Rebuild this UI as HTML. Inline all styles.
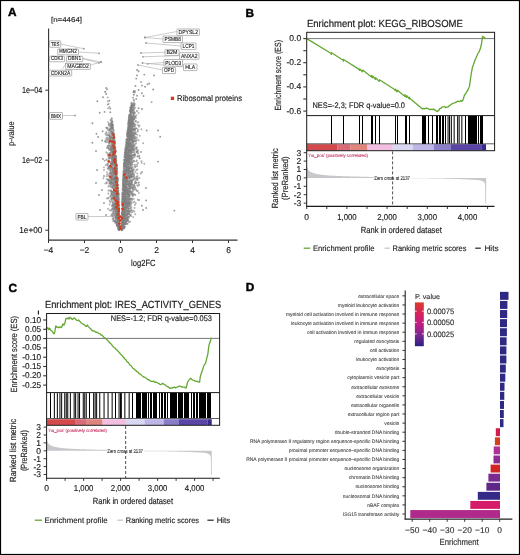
<!DOCTYPE html>
<html><head><meta charset="utf-8"><style>
html,body{margin:0;padding:0;background:#fff;}
svg{display:block;font-family:"Liberation Sans", sans-serif;will-change:transform;text-rendering:geometricPrecision;}
</style></head><body>
<svg width="520" height="555" viewBox="0 0 520 555">
<rect width="520" height="555" fill="#fff"/>
<text x="8.0" y="16.3" font-size="11.8" font-weight="bold" fill="#000" stroke="#000" stroke-width="0.45">A</text>
<text x="245.6" y="16.7" font-size="11.8" font-weight="bold" fill="#000" stroke="#000" stroke-width="0.45">B</text>
<text x="8.6" y="292.2" font-size="11.8" font-weight="bold" fill="#000" stroke="#000" stroke-width="0.45">C</text>
<text x="245.7" y="291.4" font-size="11.8" font-weight="bold" fill="#000" stroke="#000" stroke-width="0.45">D</text>
<text x="51" y="22.3" font-size="7" textLength="31" lengthAdjust="spacingAndGlyphs" fill="#222" stroke="#222" stroke-width="0.126">[n=4464]</text>
<text x="0" y="0" font-size="8.6" text-anchor="middle" textLength="24.7" lengthAdjust="spacingAndGlyphs" fill="#222" stroke="#222" stroke-width="0.155" transform="translate(14.4,133.7) rotate(-90)">p-value</text>
<line x1="45.3" y1="90.19999999999999" x2="48.6" y2="90.19999999999999" stroke="#333" stroke-width="1"/>
<text x="42.3" y="92.89999999999999" font-size="8.7" text-anchor="end" textLength="20.4" lengthAdjust="spacingAndGlyphs" fill="#222" stroke="#222" stroke-width="0.157">1e−04</text>
<line x1="45.3" y1="160.2" x2="48.6" y2="160.2" stroke="#333" stroke-width="1"/>
<text x="42.3" y="162.89999999999998" font-size="8.7" text-anchor="end" textLength="20.2" lengthAdjust="spacingAndGlyphs" fill="#222" stroke="#222" stroke-width="0.157">1e−02</text>
<line x1="45.3" y1="230.2" x2="48.6" y2="230.2" stroke="#333" stroke-width="1"/>
<text x="42.3" y="232.89999999999998" font-size="8.7" text-anchor="end" textLength="23" lengthAdjust="spacingAndGlyphs" fill="#222" stroke="#222" stroke-width="0.157">1e+00</text>
<line x1="48.5" y1="240.2" x2="48.5" y2="243" stroke="#333" stroke-width="1"/>
<text x="48.5" y="253.2" font-size="8.5" text-anchor="middle" fill="#222" stroke="#222" stroke-width="0.153">−4</text>
<line x1="84.5" y1="240.2" x2="84.5" y2="243" stroke="#333" stroke-width="1"/>
<text x="84.5" y="253.2" font-size="8.5" text-anchor="middle" fill="#222" stroke="#222" stroke-width="0.153">−2</text>
<line x1="120.5" y1="240.2" x2="120.5" y2="243" stroke="#333" stroke-width="1"/>
<text x="120.5" y="253.2" font-size="8.5" text-anchor="middle" fill="#222" stroke="#222" stroke-width="0.153">0</text>
<line x1="156.5" y1="240.2" x2="156.5" y2="243" stroke="#333" stroke-width="1"/>
<text x="156.5" y="253.2" font-size="8.5" text-anchor="middle" fill="#222" stroke="#222" stroke-width="0.153">2</text>
<line x1="192.5" y1="240.2" x2="192.5" y2="243" stroke="#333" stroke-width="1"/>
<text x="192.5" y="253.2" font-size="8.5" text-anchor="middle" fill="#222" stroke="#222" stroke-width="0.153">4</text>
<line x1="228.5" y1="240.2" x2="228.5" y2="243" stroke="#333" stroke-width="1"/>
<text x="228.5" y="253.2" font-size="8.5" text-anchor="middle" fill="#222" stroke="#222" stroke-width="0.153">6</text>
<text x="143.3" y="266.4" font-size="9.0" text-anchor="middle" textLength="24.5" lengthAdjust="spacingAndGlyphs" fill="#222" stroke="#222" stroke-width="0.162">log2FC</text>
<g>
<path d="M114.1 170.9h0M124.4 219.1h0M125.7 192.7h0M114.7 164.1h0M123.6 223.9h0M124.3 209.4h0M133.1 103.3h0M125.1 163.3h0M128.5 191.5h0M115.7 160.0h0M128.2 193.2h0M131.6 146.9h0M118.4 217.3h0M131.4 177.2h0M130.6 139.9h0M111.5 155.8h0M112.7 148.6h0M131.5 152.5h0M118.1 197.4h0M125.7 172.2h0M116.1 183.0h0M126.8 192.4h0M109.3 182.3h0M126.2 166.3h0M113.0 124.8h0M127.1 171.1h0M122.8 215.4h0M128.8 162.4h0M124.3 188.1h0M138.5 112.9h0M118.6 194.7h0M115.3 156.2h0M118.3 223.8h0M110.7 164.0h0M122.9 198.3h0M129.5 198.4h0M128.8 126.0h0M123.3 224.6h0M130.2 135.0h0M118.2 226.7h0M112.8 197.1h0M130.4 145.2h0M116.3 198.0h0M135.9 120.7h0M125.1 194.4h0M115.1 171.7h0M124.1 201.7h0M131.0 155.8h0M119.0 229.3h0M108.5 160.3h0M114.8 158.4h0M127.2 181.1h0M124.1 215.3h0M133.7 123.1h0M114.0 158.2h0M123.2 220.5h0M133.1 105.4h0M122.4 196.6h0M133.0 185.5h0M115.1 153.6h0M124.4 191.6h0M115.7 163.9h0M116.8 210.0h0M126.0 178.2h0M116.4 172.4h0M125.0 152.5h0M134.0 129.2h0M131.3 207.2h0M117.1 215.6h0M113.6 149.4h0M128.0 138.5h0M117.9 211.8h0M126.5 192.7h0M114.4 164.6h0M130.4 151.1h0M115.2 163.7h0M106.9 179.3h0M128.4 155.7h0M110.4 130.6h0M132.8 188.8h0M124.4 200.9h0M128.8 157.7h0M122.4 212.0h0M126.0 207.1h0M129.3 119.2h0M131.3 130.1h0M131.9 199.2h0M112.3 128.7h0M130.2 132.6h0M129.3 135.8h0M115.1 173.8h0M125.3 166.3h0M115.4 159.5h0M125.2 196.7h0M134.4 201.7h0M128.1 200.5h0M115.8 169.5h0M127.2 177.1h0M122.2 211.4h0M106.1 142.2h0M119.1 230.0h0M125.7 169.5h0M124.7 214.4h0M109.7 200.7h0M114.8 155.2h0M127.5 130.4h0M132.8 146.5h0M109.6 107.0h0M122.7 214.0h0M126.3 205.9h0M127.2 170.6h0M126.2 164.1h0M109.8 176.5h0M117.2 184.9h0M125.3 185.7h0M135.9 178.4h0M112.6 206.5h0M112.9 187.9h0M123.8 203.2h0M128.2 128.0h0M123.0 227.1h0M129.0 156.4h0M117.2 222.1h0M116.5 176.2h0M114.7 179.8h0M123.7 183.8h0M126.8 191.6h0M123.9 197.5h0M117.8 199.1h0M119.2 225.9h0M122.5 194.0h0M112.3 155.9h0M126.2 203.2h0M116.4 203.2h0M131.1 129.9h0M117.5 217.7h0M129.5 121.7h0M127.2 217.7h0M125.3 171.6h0M129.0 126.9h0M113.6 204.7h0M123.7 174.2h0M115.1 207.5h0M124.8 188.5h0M129.0 174.3h0M114.4 163.5h0M129.3 137.5h0M126.4 154.4h0M116.7 198.4h0M128.2 141.7h0M114.8 164.4h0M112.3 147.8h0M126.7 187.4h0M122.8 185.3h0M129.3 150.5h0M115.0 171.1h0M130.8 185.8h0M135.3 129.0h0M111.7 180.1h0M135.4 132.0h0M131.5 123.2h0M114.7 141.0h0M129.2 146.7h0M114.9 221.0h0M128.0 144.8h0M134.5 124.8h0M135.4 182.9h0M130.1 215.3h0M128.7 167.2h0M124.5 178.8h0M128.5 199.7h0M133.0 119.4h0M114.7 212.7h0M114.6 161.0h0M115.4 172.8h0M124.9 196.9h0M115.9 193.0h0M125.2 163.2h0M125.6 204.1h0M129.7 139.6h0M131.0 136.4h0M129.4 132.9h0M114.6 178.7h0M129.4 152.1h0M133.3 137.0h0M128.3 140.3h0M123.3 225.0h0M124.0 219.4h0M127.1 157.0h0M112.1 200.9h0M131.9 120.2h0M112.5 195.4h0M124.1 164.8h0M112.4 154.0h0M112.3 195.3h0M129.2 132.6h0M115.3 158.7h0M131.9 117.9h0M129.0 172.7h0M129.2 186.1h0M123.8 210.0h0M129.0 121.5h0M130.7 207.7h0M117.3 216.9h0M134.6 105.2h0M118.8 203.9h0M109.3 181.3h0M130.1 180.7h0M128.7 132.7h0M126.1 187.4h0M113.2 184.5h0M123.0 211.3h0M131.3 147.5h0M125.1 224.3h0M107.0 198.2h0M127.0 168.4h0M130.4 142.7h0M126.4 167.2h0M129.3 139.3h0M116.8 189.1h0M113.6 134.3h0M134.3 119.4h0M132.8 129.6h0M122.4 199.4h0M124.5 156.7h0M122.2 229.3h0M116.0 198.8h0M113.5 218.2h0M129.4 159.4h0M115.4 212.2h0M134.1 185.8h0M129.2 130.1h0M124.1 222.9h0M112.0 131.8h0M124.7 185.1h0M116.2 185.1h0M110.5 178.2h0M128.1 160.6h0M131.0 151.7h0M114.6 193.1h0M117.4 214.9h0M132.5 107.4h0M114.0 175.5h0M124.7 222.6h0M118.7 229.6h0M118.6 226.2h0M122.3 202.7h0M132.7 172.9h0M128.4 154.7h0M126.3 162.4h0M116.5 205.9h0M116.3 223.3h0M111.8 131.9h0M112.2 206.3h0M123.2 224.8h0M128.6 185.9h0M125.3 203.6h0M138.0 163.0h0M118.5 198.8h0M123.9 182.4h0M122.2 220.2h0M130.3 130.0h0M117.1 188.5h0M111.8 155.7h0M119.0 216.2h0M112.0 164.5h0M113.4 135.0h0M123.8 228.3h0M127.2 149.0h0M111.9 183.9h0M115.3 158.8h0M111.3 124.3h0M129.4 154.9h0M122.9 219.7h0M117.2 215.6h0M123.4 211.6h0M130.5 161.7h0M133.0 121.9h0M124.5 220.2h0M112.8 202.7h0M123.5 203.9h0M124.4 204.2h0M112.7 148.8h0M131.1 183.9h0M127.1 194.4h0M128.4 143.3h0M109.0 157.9h0M119.4 224.0h0M136.8 190.7h0M129.7 130.6h0M112.2 209.0h0M118.7 228.6h0M137.2 151.6h0M128.6 162.5h0M132.1 129.7h0M118.9 228.6h0M129.2 138.8h0M127.8 129.7h0M115.7 213.3h0M114.2 159.2h0M127.2 155.5h0M115.6 177.7h0M111.2 169.6h0M131.7 191.9h0M108.4 186.5h0M113.6 143.6h0M130.0 178.1h0M115.9 156.3h0M132.4 193.1h0M108.1 163.8h0M126.9 153.8h0M122.5 229.0h0M123.4 222.9h0M106.8 128.3h0M127.0 187.8h0M134.1 152.5h0M114.8 202.6h0M109.6 135.2h0M114.0 179.3h0M112.2 134.9h0M129.1 138.7h0M129.4 128.4h0M126.7 207.7h0M131.7 182.8h0M127.1 175.6h0M118.7 215.2h0M108.4 190.5h0M114.7 158.7h0M125.8 183.5h0M127.7 170.7h0M130.4 126.2h0M131.0 138.8h0M123.3 182.4h0M126.8 211.0h0M117.1 223.0h0M129.4 129.9h0M112.8 184.9h0M117.4 213.3h0M124.4 215.9h0M124.6 199.5h0M118.1 226.6h0M131.6 130.0h0M114.8 142.4h0M131.5 170.1h0M126.5 179.4h0M128.4 167.9h0M127.4 198.9h0M107.8 129.9h0M113.8 138.4h0M114.4 179.4h0M126.8 141.1h0M119.0 203.1h0M132.5 126.4h0M129.1 115.2h0M132.2 171.6h0M113.8 177.5h0M126.3 150.7h0M115.6 196.0h0M124.6 187.3h0M121.9 227.9h0M128.6 156.9h0M113.9 201.9h0M131.3 161.2h0M122.2 203.4h0M110.4 129.6h0M136.9 160.4h0M136.8 139.8h0M122.4 200.7h0M123.8 185.1h0M116.9 183.2h0M129.3 138.4h0M123.1 176.0h0M109.0 141.7h0M125.5 185.5h0M131.5 109.2h0M126.5 174.7h0M128.8 133.0h0M132.4 135.8h0M128.9 199.2h0M127.3 132.7h0M131.5 103.6h0M127.7 145.5h0M113.8 138.8h0M113.3 159.7h0M125.2 197.9h0M127.0 208.4h0M112.3 182.7h0M129.1 151.5h0M111.9 166.9h0M116.7 196.6h0M125.2 176.3h0M123.2 193.5h0M126.8 176.8h0M116.3 183.3h0M128.7 119.2h0M112.8 128.2h0M130.8 157.0h0M128.0 158.6h0M126.1 161.9h0M114.5 166.2h0M130.1 150.8h0M128.3 147.0h0M107.7 146.0h0M113.4 136.5h0M113.9 175.6h0M117.2 214.2h0M112.0 164.7h0M129.2 134.5h0M130.4 125.3h0M126.7 144.4h0M124.0 186.4h0M128.7 168.5h0M129.7 132.7h0M132.8 140.9h0M118.3 207.2h0M130.2 172.1h0M124.9 215.5h0M133.7 104.2h0M103.5 178.3h0M124.3 192.8h0M117.2 223.9h0M128.5 135.4h0M125.3 156.9h0M117.2 187.4h0M109.3 170.1h0M113.7 190.2h0M126.8 221.7h0M113.2 132.6h0M117.4 217.8h0M118.0 218.6h0M129.1 131.9h0M128.2 132.3h0M114.0 185.6h0M128.4 203.9h0M126.7 149.4h0M131.9 149.7h0M125.7 194.0h0M130.8 174.6h0M118.6 217.4h0M131.8 116.2h0M125.2 202.1h0M114.2 200.1h0M123.8 187.4h0M125.2 160.6h0M121.8 222.2h0M124.5 207.0h0M117.1 193.5h0M133.0 191.5h0M116.7 199.7h0M130.0 135.0h0M116.4 183.1h0M127.7 131.9h0M135.1 167.2h0M130.4 205.8h0M125.3 216.5h0M132.2 134.5h0M114.4 197.4h0M132.4 142.6h0M126.6 200.5h0M112.8 137.3h0M116.8 191.9h0M125.3 223.9h0M113.4 138.4h0M126.9 177.1h0M110.7 140.4h0M134.4 136.9h0M122.0 228.4h0M130.7 205.4h0M123.1 221.0h0M117.5 226.2h0M131.3 162.1h0M119.0 228.8h0M114.5 172.4h0M109.1 149.9h0M118.6 201.9h0M128.7 200.3h0M132.2 131.7h0M124.5 173.7h0M125.2 177.8h0M119.2 229.4h0M125.6 175.5h0M128.1 196.9h0M123.6 175.0h0M128.4 132.1h0M122.7 218.4h0M114.1 177.9h0M129.5 184.1h0M128.7 175.5h0M130.2 190.4h0M129.5 138.8h0M116.3 210.3h0M125.2 206.1h0M121.9 229.5h0M112.1 214.6h0M123.2 177.9h0M123.8 181.0h0M123.5 213.5h0M130.5 175.1h0M130.9 121.4h0M125.6 218.3h0M112.6 138.1h0M116.5 178.1h0M123.8 208.1h0M133.2 141.4h0M113.3 146.0h0M106.7 176.2h0M129.4 123.8h0M115.8 172.8h0M118.6 212.9h0M129.9 133.9h0M134.4 129.6h0M118.8 207.6h0M116.9 201.1h0M125.1 184.0h0M108.1 208.7h0M118.3 222.2h0M126.2 168.5h0M112.8 201.6h0M128.8 120.4h0M127.4 136.6h0M118.3 224.3h0M114.4 152.9h0M129.1 188.8h0M126.3 159.5h0M110.7 125.9h0M132.1 150.5h0M127.5 159.4h0M111.8 179.4h0M112.8 144.4h0M111.3 146.5h0M118.0 221.2h0M123.4 197.3h0M108.3 154.8h0M107.5 153.3h0M124.4 165.8h0M109.6 136.4h0M130.2 163.7h0M115.1 150.6h0M124.4 215.5h0M117.1 168.3h0M126.7 181.0h0M128.3 186.0h0M122.8 225.5h0M128.9 156.4h0M128.7 134.2h0M111.6 160.2h0M128.5 200.4h0M128.2 141.4h0M128.0 144.4h0M121.8 230.2h0M122.4 217.9h0M110.3 154.8h0M126.2 154.8h0M125.4 182.9h0M135.3 214.3h0M130.5 165.4h0M122.5 227.6h0M114.9 166.0h0M118.8 229.5h0M130.9 175.2h0M118.1 188.2h0M127.5 156.1h0M125.1 201.1h0M130.8 137.5h0M125.9 181.8h0M115.1 170.2h0M124.3 199.5h0M121.7 227.2h0M132.2 131.6h0M116.6 195.1h0M127.1 202.2h0M123.9 199.9h0M116.1 209.8h0M113.8 208.7h0M117.0 170.9h0M113.9 173.7h0M129.0 164.2h0M115.9 189.2h0M114.6 174.3h0M123.1 180.2h0M132.3 181.0h0M122.6 195.0h0M128.4 127.1h0M121.8 225.8h0M112.8 165.3h0M124.6 185.8h0M127.5 179.3h0M123.0 204.7h0M128.9 167.9h0M131.6 126.3h0M126.2 154.7h0M115.0 178.2h0M115.5 148.2h0M114.6 179.7h0M124.6 215.5h0M131.3 135.2h0M117.1 193.1h0M112.2 125.3h0M122.8 206.2h0M128.1 189.9h0M128.1 184.1h0M128.1 168.4h0M113.4 137.6h0M125.5 224.1h0M114.1 162.5h0M125.9 171.8h0M114.9 177.2h0M117.4 223.5h0M123.6 196.1h0M133.5 176.4h0M131.0 111.5h0M115.9 187.5h0M130.2 203.3h0M129.4 155.9h0M123.0 217.9h0M116.0 213.5h0M112.9 159.5h0M129.8 117.4h0M125.8 158.8h0M131.8 193.4h0M138.6 182.7h0M110.9 127.8h0M133.5 121.5h0M118.6 220.8h0M117.8 200.4h0M117.7 178.5h0M125.0 218.3h0M106.3 138.4h0M114.7 214.9h0M116.5 176.9h0M113.2 147.7h0M129.6 176.9h0M126.5 139.3h0M119.1 229.6h0M129.2 214.2h0M134.1 136.7h0M122.7 193.8h0M130.8 108.1h0M123.8 176.2h0M116.5 215.4h0M117.1 183.9h0M124.9 197.7h0M124.6 193.8h0M113.2 168.6h0M116.4 211.3h0M111.3 120.2h0M115.8 205.2h0M116.8 200.4h0M117.4 197.4h0M112.5 176.6h0M127.4 142.1h0M128.1 155.8h0M131.9 119.0h0M128.1 154.9h0M130.5 118.7h0M125.9 207.0h0M115.3 213.3h0M123.4 190.2h0M127.7 129.5h0M126.7 221.2h0M111.9 124.0h0M126.4 186.7h0M116.8 174.3h0M106.6 127.7h0M131.5 156.0h0M115.1 193.6h0M124.6 155.3h0M113.7 179.4h0M111.5 123.5h0M136.1 189.5h0M127.3 161.1h0M127.1 181.8h0M118.7 205.0h0M127.0 143.4h0M123.9 222.5h0M109.0 197.6h0M132.3 127.2h0M112.1 206.6h0M114.7 169.5h0M109.4 140.2h0M131.5 112.7h0M125.8 170.4h0M128.5 127.1h0M118.0 227.0h0M124.9 164.3h0M115.6 169.1h0M119.1 229.4h0M116.8 222.4h0M123.9 163.4h0M119.2 228.1h0M129.8 160.7h0M113.2 139.8h0M130.8 180.6h0M115.8 171.2h0M118.6 229.5h0M128.4 145.7h0M118.5 196.8h0M116.3 194.5h0M131.2 117.3h0M113.3 137.3h0M133.6 114.2h0M118.9 222.0h0M121.8 226.4h0M114.2 202.0h0M127.1 199.0h0M123.9 177.4h0M123.9 211.5h0M124.4 162.8h0M114.5 196.7h0M122.1 201.5h0M125.5 190.2h0M123.0 213.9h0M129.7 179.2h0M128.1 169.3h0M115.7 161.8h0M112.7 170.2h0M130.3 123.4h0M115.6 176.9h0M126.6 158.7h0M122.1 218.7h0M125.5 148.9h0M124.3 159.9h0M131.0 122.3h0M141.4 129.3h0M129.4 210.8h0M128.1 149.2h0M124.0 202.8h0M130.4 160.3h0M127.5 204.3h0M128.3 142.5h0M113.8 152.8h0M113.9 190.1h0M125.4 176.7h0M118.3 199.0h0M115.7 151.1h0M128.1 170.4h0M118.5 224.4h0M127.4 202.6h0M115.7 174.8h0M129.3 170.4h0M126.8 200.6h0M125.6 154.1h0M127.9 139.2h0M110.5 168.2h0M114.7 185.2h0M132.2 138.5h0M112.1 156.6h0M131.7 210.6h0M117.8 202.7h0M130.1 117.0h0M126.2 218.5h0M128.4 128.5h0M130.6 108.0h0M136.9 128.4h0M127.2 157.0h0M112.9 196.9h0M133.8 145.7h0M136.4 115.4h0M129.3 192.9h0M116.5 163.3h0M112.7 149.0h0M122.8 212.7h0M133.3 92.1h0M128.8 188.1h0M122.5 226.9h0M123.6 180.8h0M127.9 167.8h0M125.7 161.5h0M130.7 128.5h0M117.8 209.7h0M114.9 192.3h0M123.6 215.9h0M129.3 116.2h0M112.0 147.9h0M112.1 167.8h0M127.9 165.2h0M112.2 191.7h0M112.7 136.3h0M111.3 194.4h0M112.1 177.2h0M127.9 131.6h0M110.2 153.1h0M124.8 222.9h0M121.8 224.4h0M124.5 197.3h0M125.8 216.1h0M113.4 145.2h0M129.7 131.5h0M135.0 155.8h0M131.7 136.9h0M129.2 119.6h0M126.2 199.2h0M117.8 216.4h0M133.1 210.4h0M123.0 224.1h0M126.0 181.1h0M125.0 155.3h0M127.7 184.1h0M128.7 137.3h0M129.3 180.4h0M128.1 190.5h0M127.2 134.9h0M112.6 141.5h0M128.9 127.3h0M129.9 178.2h0M127.2 203.5h0M126.7 200.5h0M124.8 204.0h0M118.9 200.2h0M116.2 165.9h0M129.6 199.0h0M106.2 152.2h0M135.7 136.8h0M112.5 153.3h0M117.5 181.1h0M115.5 158.7h0M112.4 121.4h0M109.6 204.5h0M112.9 172.3h0M113.7 145.8h0M114.3 193.9h0M123.7 204.1h0M128.7 137.7h0M122.1 221.1h0M128.8 169.1h0M129.2 174.9h0M116.3 168.2h0M114.6 210.1h0M117.5 220.4h0M119.1 215.9h0M115.6 192.7h0M119.2 227.7h0M123.5 170.6h0M121.9 229.9h0M130.7 183.7h0M128.0 133.0h0M122.8 215.8h0M130.5 111.2h0M128.7 188.5h0M123.3 207.5h0M128.8 151.5h0M124.3 225.1h0M118.8 209.1h0M111.4 136.6h0M113.8 135.2h0M131.5 133.8h0M113.6 195.6h0M126.6 171.2h0M129.1 133.3h0M131.5 124.0h0M124.7 218.1h0M110.9 150.2h0M129.2 173.0h0M132.4 141.8h0M128.9 195.2h0M124.8 214.8h0M128.5 122.4h0M134.0 149.9h0M115.8 217.1h0M124.5 198.1h0M132.4 211.9h0M130.5 150.8h0M131.4 153.2h0M113.6 185.3h0M134.8 92.6h0M113.0 157.4h0M126.2 188.5h0M128.6 147.1h0M121.8 229.0h0M126.8 154.2h0M116.8 188.3h0M117.7 194.1h0M129.8 202.8h0M124.3 215.2h0M136.0 190.1h0M133.2 103.6h0M112.8 215.5h0M123.6 190.7h0M119.2 224.9h0M127.1 223.6h0M126.3 186.9h0M113.5 184.0h0M111.8 179.3h0M123.0 196.9h0M130.7 164.3h0M128.9 208.3h0M116.7 205.3h0M134.7 103.5h0M118.2 197.8h0M130.1 205.9h0M126.6 189.2h0M114.0 177.4h0M126.7 141.3h0M131.7 111.3h0M131.0 176.8h0M117.3 172.7h0M115.5 180.0h0M107.7 97.4h0M122.9 215.8h0M129.8 124.3h0M135.2 187.9h0M128.8 149.9h0M127.4 204.5h0M129.0 160.8h0M107.8 179.7h0M126.0 209.8h0M113.2 165.6h0M129.3 129.0h0M113.2 221.2h0M112.6 160.5h0M132.3 118.0h0M114.7 152.2h0M117.2 178.3h0M122.6 228.3h0M129.1 166.5h0M123.3 200.2h0M113.6 143.2h0M113.1 176.1h0M123.4 217.6h0M109.3 185.7h0M128.2 176.7h0M117.1 217.7h0M114.9 154.9h0M126.1 150.6h0M115.8 188.9h0M134.1 148.6h0M115.3 209.6h0M116.0 161.7h0M116.0 160.2h0M132.1 105.8h0M123.6 170.5h0M126.8 218.8h0M134.4 189.1h0M112.9 141.9h0M132.4 105.5h0M117.3 192.0h0M116.2 168.1h0M117.5 184.7h0M117.0 216.1h0M131.5 127.3h0M114.4 209.3h0M126.0 154.1h0M119.0 228.5h0M124.4 224.5h0M131.8 176.8h0M134.6 153.7h0M122.7 221.4h0M117.4 178.2h0M127.3 138.6h0M135.1 91.3h0M128.8 125.7h0M107.3 142.0h0M125.6 183.9h0M131.7 129.0h0M127.9 170.1h0M129.3 122.4h0M130.9 158.9h0M129.5 130.8h0M114.2 193.5h0M114.7 212.5h0M112.4 173.3h0M129.2 139.8h0M129.3 126.7h0M126.4 149.4h0M129.3 117.2h0M130.8 135.0h0M128.8 121.3h0M118.7 226.3h0M114.8 156.4h0M107.0 147.7h0M116.5 198.8h0M115.3 183.9h0M124.9 185.1h0M118.8 218.0h0M124.2 204.3h0M131.5 119.2h0M104.0 169.9h0M113.7 212.1h0M132.0 182.1h0M118.1 197.4h0M133.5 137.3h0M126.6 172.0h0M133.7 123.1h0M124.6 210.5h0M129.1 134.8h0M129.7 150.0h0M123.6 204.1h0M123.7 204.9h0M126.5 143.1h0M126.7 169.1h0M116.2 194.2h0M132.1 121.1h0M128.8 184.4h0M126.8 167.8h0M129.7 143.7h0M127.8 214.2h0M115.6 180.8h0M133.2 140.9h0M125.2 153.2h0M112.5 147.8h0M128.0 164.1h0M123.9 208.5h0M129.3 118.5h0M131.5 149.5h0M130.8 155.3h0M123.4 198.5h0M124.7 218.6h0M123.6 198.9h0M126.7 179.3h0M111.5 128.2h0M126.0 157.6h0M124.5 213.1h0M111.6 198.5h0M112.2 150.8h0M117.2 224.6h0M128.5 153.2h0M113.0 150.4h0M127.7 129.8h0M123.3 182.0h0M128.0 137.9h0M131.4 139.6h0M117.8 218.5h0M112.3 163.2h0M115.7 188.9h0M128.5 123.3h0M125.4 211.5h0M130.3 115.4h0M123.3 204.3h0M116.2 210.6h0M129.5 138.5h0M122.9 224.3h0M122.6 227.3h0M125.9 210.5h0M112.3 194.9h0M133.7 189.0h0M116.7 204.0h0M113.7 161.0h0M127.5 192.6h0M111.4 180.7h0M112.8 151.8h0M130.8 136.4h0M123.2 227.9h0M108.9 129.8h0M108.7 103.8h0M122.9 213.1h0M112.0 142.2h0M124.5 227.5h0M127.0 205.1h0M112.6 219.0h0M110.1 137.4h0M134.7 136.6h0M113.5 147.8h0M118.2 214.4h0M122.1 229.6h0M130.9 142.9h0M131.2 123.1h0M122.6 197.0h0M114.0 170.9h0M116.4 190.3h0M118.4 225.2h0M118.6 215.9h0M126.4 186.7h0M112.8 186.0h0M127.3 168.7h0M133.1 187.5h0M133.8 198.9h0M114.4 146.3h0M127.4 161.1h0M123.3 210.7h0M130.0 130.1h0M127.5 139.5h0M117.3 181.6h0M113.1 146.1h0M118.9 227.4h0M112.6 205.7h0M126.9 174.9h0M118.4 202.7h0M129.2 121.5h0M113.9 148.2h0M112.5 157.2h0M123.8 184.1h0M129.4 126.2h0M123.6 225.7h0M130.3 107.8h0M125.0 171.0h0M115.9 170.5h0M129.7 194.8h0M126.3 161.7h0M131.0 160.0h0M116.3 222.2h0M130.4 156.4h0M129.0 144.2h0M112.9 163.6h0M128.4 194.2h0M114.2 177.5h0M137.2 173.5h0M123.1 184.7h0M113.9 211.7h0M116.4 179.7h0M113.8 177.5h0M119.0 216.5h0M131.9 174.7h0M125.4 168.8h0M134.3 184.9h0M131.0 130.4h0M126.3 158.8h0M122.7 227.1h0M130.2 159.7h0M125.3 160.5h0M108.2 139.5h0M117.1 215.5h0M122.4 220.6h0M111.0 141.3h0M117.9 193.3h0M111.5 193.6h0M117.3 171.4h0M127.9 219.7h0M126.7 148.9h0M130.2 111.6h0M133.1 195.5h0M132.0 110.3h0M122.0 228.0h0M124.4 204.9h0M127.6 148.1h0M133.0 112.2h0M123.9 164.2h0M115.9 210.3h0M122.7 202.6h0M117.3 217.1h0M115.5 195.4h0M110.3 149.0h0M129.7 197.9h0M119.4 224.7h0M117.0 209.7h0M131.2 117.9h0M117.2 186.2h0M130.3 118.7h0M125.6 199.2h0M113.3 149.8h0M129.3 196.0h0M129.5 149.9h0M130.6 135.3h0M132.7 148.3h0M118.8 199.2h0M115.2 180.4h0M116.9 174.0h0M125.4 151.0h0M122.5 227.6h0M108.5 167.2h0M132.6 174.6h0M123.0 219.1h0M119.0 227.9h0M128.8 212.5h0M128.9 146.6h0M129.5 181.1h0M125.8 158.2h0M130.6 187.9h0M118.6 224.5h0M113.2 155.9h0M123.0 222.8h0M113.8 138.7h0M106.9 172.1h0M129.2 114.6h0M129.5 122.2h0M117.5 200.5h0M123.0 227.2h0M129.5 167.8h0M128.8 174.5h0M112.7 164.7h0M112.3 127.4h0M124.8 204.9h0M129.8 123.9h0M126.2 210.1h0M114.6 156.5h0M123.2 222.5h0M110.1 125.7h0M113.1 198.4h0M114.4 204.9h0M116.8 204.2h0M128.6 172.0h0M129.6 212.8h0M128.7 139.2h0M135.0 149.3h0M125.9 217.6h0M126.2 141.9h0M112.2 157.6h0M131.6 212.3h0M123.9 187.3h0M114.5 179.4h0M126.1 148.4h0M122.0 229.2h0M131.5 146.0h0M121.7 228.9h0M138.8 192.9h0M115.7 176.4h0M131.7 106.7h0M130.3 171.2h0M119.2 229.4h0M132.2 123.8h0M123.9 208.9h0M114.7 158.9h0M133.4 179.8h0M128.9 212.0h0M134.5 141.3h0M113.8 151.5h0M110.2 147.6h0M129.1 138.2h0M118.8 214.1h0M127.8 178.7h0M118.7 212.3h0M114.0 151.7h0M114.5 200.8h0M131.4 131.6h0M113.2 137.9h0M127.6 147.4h0M125.8 192.9h0M129.0 131.8h0M135.1 116.5h0M117.4 217.2h0M112.3 133.0h0M124.9 165.8h0M123.3 202.0h0M125.7 207.3h0M128.8 123.3h0M130.5 177.3h0M129.0 203.9h0M126.0 184.8h0M111.0 134.6h0M114.1 173.9h0M130.6 113.3h0M113.8 169.0h0M125.6 169.6h0M122.5 224.4h0M128.4 156.5h0M117.2 207.7h0M122.0 221.8h0M128.8 158.5h0M121.8 229.6h0M128.6 191.6h0M114.4 173.0h0M126.1 210.0h0M129.7 145.8h0M127.7 131.0h0M128.7 125.7h0M130.9 168.4h0M127.1 154.6h0M129.2 179.6h0M117.8 216.1h0M123.9 200.6h0M128.7 149.2h0M123.5 176.0h0M115.8 175.3h0M115.6 191.9h0M136.1 132.7h0M111.6 167.7h0M114.5 158.0h0M130.2 131.4h0M124.2 195.0h0M133.8 91.5h0M107.2 135.5h0M127.8 164.2h0M128.1 149.6h0M131.6 122.3h0M117.6 202.0h0M111.0 172.2h0M122.7 198.4h0M128.6 136.8h0M123.8 186.6h0M112.0 206.6h0M121.7 213.8h0M129.9 119.9h0M118.7 207.5h0M134.0 155.4h0M112.8 192.8h0M132.8 196.4h0M132.5 187.4h0M123.5 171.2h0M131.2 198.9h0M123.1 227.8h0M128.3 169.1h0M125.9 147.4h0M133.6 99.7h0M127.6 140.6h0M112.8 127.5h0M116.5 192.4h0M122.6 198.2h0M126.1 208.1h0M126.0 184.5h0M116.0 207.3h0M137.4 156.1h0M122.9 188.9h0M126.9 148.2h0M129.9 134.6h0M131.1 108.3h0M110.2 173.4h0M116.4 184.5h0M128.2 155.3h0M128.5 201.4h0M115.0 207.8h0M126.6 180.2h0M123.8 216.3h0M125.1 189.9h0M113.7 153.1h0M118.7 198.6h0M117.2 173.2h0M126.6 192.4h0M118.8 229.7h0M129.1 134.1h0M124.4 160.2h0M132.8 122.9h0M132.0 131.6h0M111.0 190.3h0M136.9 137.8h0M132.6 121.8h0M116.8 225.1h0M134.3 112.2h0M113.8 201.9h0M127.2 193.7h0M122.9 213.8h0M127.4 135.1h0M125.4 190.7h0M126.8 152.2h0M130.4 110.4h0M123.1 227.8h0M130.1 184.0h0M125.3 208.7h0M118.4 222.6h0M132.0 136.3h0M123.5 203.9h0M129.5 202.0h0M123.3 194.1h0M118.6 213.1h0M129.9 150.0h0M132.0 198.7h0M123.3 202.1h0M111.1 182.4h0M129.1 142.1h0M115.7 213.6h0M129.3 202.4h0M128.2 140.2h0M132.5 132.6h0M128.6 161.4h0M106.4 135.2h0M108.8 124.2h0M123.4 225.2h0M119.2 210.6h0M123.0 204.4h0M117.9 213.1h0M129.3 136.6h0M122.0 227.4h0M122.8 226.7h0M127.4 158.4h0M127.4 214.3h0M135.1 137.9h0M114.3 152.5h0M116.8 186.0h0M117.8 223.3h0M113.1 133.3h0M131.9 134.8h0M126.9 140.5h0M131.2 130.3h0M112.6 156.7h0M117.9 228.0h0M122.8 226.7h0M110.6 137.2h0M104.0 167.4h0M114.3 198.8h0" stroke="#777" stroke-opacity="0.6" stroke-width="1.9" stroke-linecap="round" fill="none"/>
<path d="M129.5 127.9h0M138.1 178.6h0M110.1 152.4h0M126.5 186.2h0M118.5 225.5h0M116.9 213.3h0M128.3 142.1h0M114.0 198.4h0M108.1 154.9h0M126.8 170.3h0M122.8 219.0h0M131.2 155.8h0M124.9 210.6h0M135.4 116.7h0M131.2 135.1h0M114.8 169.6h0M128.4 127.2h0M126.3 147.6h0M128.2 169.3h0M133.3 172.9h0M118.8 216.0h0M112.0 167.5h0M124.7 171.2h0M115.6 171.1h0M132.6 124.6h0M125.0 198.8h0M132.6 136.5h0M116.7 181.0h0M119.1 224.4h0M131.5 103.4h0M123.2 225.2h0M134.3 104.8h0M131.1 168.4h0M133.8 115.4h0M137.6 156.6h0M126.7 220.8h0M122.1 213.1h0M127.3 184.2h0M112.8 135.5h0M121.7 230.1h0M127.5 139.7h0M124.7 207.0h0M114.5 144.4h0M137.1 177.7h0M122.7 188.6h0M112.2 147.7h0M122.9 214.2h0M126.2 207.1h0M130.5 125.7h0M125.1 211.6h0M117.1 196.6h0M134.1 161.1h0M131.2 110.1h0M131.1 145.1h0M122.9 227.7h0M117.0 179.3h0M139.5 125.4h0M122.1 219.6h0M124.9 178.0h0M114.7 204.3h0M114.5 186.8h0M127.8 183.8h0M123.8 189.7h0M113.8 193.1h0M129.7 127.3h0M115.2 151.6h0M127.5 161.9h0M126.2 157.7h0M127.9 158.9h0M126.6 165.8h0M136.2 148.5h0M125.3 196.6h0M118.6 202.3h0M123.8 223.7h0M132.5 187.8h0M124.3 193.8h0M137.8 186.0h0M124.2 212.0h0M124.4 224.6h0M124.3 211.8h0M113.9 178.3h0M125.3 178.1h0M125.9 170.7h0M112.9 162.6h0M124.5 212.7h0M114.8 193.3h0M126.2 208.9h0M129.6 164.5h0M132.9 154.9h0M113.8 171.4h0M127.4 155.3h0M129.5 152.2h0M126.7 150.4h0M126.6 157.3h0M113.2 171.9h0M118.1 226.5h0M124.8 190.6h0M127.0 133.9h0M125.1 167.6h0M126.9 177.9h0M123.7 213.8h0M111.5 178.5h0M129.7 120.8h0M124.3 209.1h0M111.8 125.8h0M129.5 202.8h0M130.0 147.8h0M109.3 173.1h0M128.9 154.9h0M125.3 217.4h0M131.2 115.0h0M107.2 174.3h0M118.0 201.5h0M117.6 216.1h0M117.2 188.4h0M137.8 199.8h0M129.0 124.6h0M110.7 185.3h0M123.7 226.0h0M108.3 180.2h0M123.9 194.5h0M125.0 181.6h0M125.6 215.6h0M131.8 132.9h0M129.7 149.9h0M127.3 153.4h0M131.9 149.5h0M112.2 158.7h0M118.6 223.2h0M117.3 212.6h0M131.1 131.1h0M118.0 214.2h0M123.3 193.6h0M125.7 179.0h0M133.3 130.3h0M118.5 193.0h0M127.7 131.2h0M127.4 178.2h0M123.9 167.8h0M130.5 124.7h0M126.2 222.4h0M130.0 127.9h0M128.6 194.6h0M134.5 133.4h0M129.5 196.1h0M125.2 223.2h0M115.6 159.9h0M134.0 170.1h0M132.0 170.0h0M113.6 173.5h0M115.9 208.6h0M116.0 195.3h0M127.8 191.5h0M134.2 92.3h0M131.7 181.2h0M114.5 203.6h0M126.8 156.6h0M115.7 197.0h0M127.5 132.8h0M116.2 165.2h0M122.5 225.5h0M116.2 173.7h0M116.6 200.4h0M119.2 219.8h0M141.4 161.2h0M117.0 180.8h0M132.8 118.4h0M132.0 163.3h0M117.9 224.7h0M128.3 181.3h0M129.0 192.4h0M109.6 143.6h0M125.6 199.5h0M133.3 108.5h0M122.9 209.3h0M126.1 170.6h0M127.2 213.6h0M125.7 222.7h0M128.6 171.3h0M113.3 135.2h0M122.3 208.6h0M118.1 220.0h0M125.4 213.4h0M115.3 158.4h0M131.6 119.0h0M127.6 156.3h0M129.6 151.2h0M124.4 162.4h0M130.0 159.5h0M127.4 184.6h0M119.3 220.3h0M126.3 162.6h0M131.8 133.1h0M113.2 138.9h0M126.8 146.5h0M130.7 124.4h0M123.2 207.9h0M118.1 207.7h0M135.6 181.0h0M112.9 135.6h0M112.8 140.0h0M125.1 219.6h0M131.0 156.3h0M118.7 221.7h0M117.9 212.9h0M133.9 119.2h0M135.5 143.5h0M115.0 177.4h0M130.6 164.7h0M118.7 194.5h0M114.0 157.7h0M125.2 180.5h0M117.3 196.0h0M127.6 197.0h0M125.3 209.2h0M115.1 200.8h0M118.9 229.9h0M128.5 210.6h0M121.8 228.3h0M110.1 183.0h0M118.3 225.9h0M126.7 201.8h0M117.4 182.8h0M113.0 153.8h0M123.3 208.9h0M130.0 127.8h0M133.5 114.9h0M127.6 173.7h0M115.3 185.5h0M133.1 152.1h0M129.0 122.7h0M115.3 186.6h0M139.3 155.6h0M118.1 198.9h0M126.1 151.7h0M110.4 166.6h0M128.6 175.7h0M121.8 223.9h0M117.1 200.9h0M116.6 202.2h0M132.6 129.3h0M112.9 139.2h0M129.1 204.3h0M125.5 152.9h0M131.3 127.5h0M127.3 192.0h0M129.7 160.7h0M112.4 125.2h0M114.0 156.1h0M136.4 176.6h0M124.4 199.0h0M137.4 179.9h0M131.8 128.9h0M130.2 111.1h0M130.0 148.4h0M126.1 182.0h0M118.0 202.5h0M115.6 181.6h0M124.7 220.1h0M118.7 215.6h0M116.9 168.7h0M132.0 162.7h0M118.8 217.6h0M121.9 224.8h0M116.2 199.2h0M115.8 207.6h0M114.1 157.5h0M112.3 121.6h0M116.6 182.7h0M111.7 193.9h0M121.7 227.8h0M129.6 114.9h0M129.7 133.5h0M122.3 222.6h0M127.4 212.0h0M125.7 198.6h0M126.3 160.1h0M109.7 190.6h0M122.6 199.0h0M131.5 134.4h0M114.6 187.7h0M134.8 194.4h0M108.1 198.5h0M137.4 169.5h0M129.5 133.8h0M122.4 219.8h0M131.4 109.6h0M124.9 215.0h0M129.9 139.7h0M114.6 146.7h0M134.6 183.1h0M126.2 220.8h0M118.5 207.2h0M116.7 184.2h0M136.9 147.6h0M127.4 152.0h0M129.4 149.1h0M125.2 223.1h0M130.9 107.7h0M128.1 173.5h0M112.0 187.2h0M114.3 158.4h0M135.1 138.4h0M125.6 160.0h0M128.4 209.7h0M143.2 143.3h0M117.8 195.4h0M117.4 186.7h0M132.7 120.7h0M129.2 121.2h0M130.7 153.3h0M117.4 215.0h0M113.5 130.0h0M117.1 178.5h0M111.3 122.6h0M132.5 121.8h0M131.4 182.1h0M132.6 133.4h0M138.0 129.8h0M111.6 122.8h0M132.3 124.7h0M122.4 215.2h0M122.4 216.8h0M123.8 166.9h0M134.7 112.7h0M123.6 194.4h0M127.5 212.4h0M127.3 215.6h0M126.9 194.5h0M132.4 142.7h0M115.5 201.0h0M111.7 181.6h0M119.1 213.4h0M109.5 176.8h0M132.6 104.4h0M124.4 226.7h0M110.7 196.1h0M130.6 156.7h0M116.8 177.0h0M117.2 214.1h0M114.7 217.9h0M125.3 148.8h0M118.9 208.9h0M112.2 197.0h0M124.3 169.4h0M126.8 196.7h0M129.8 136.1h0M115.9 157.1h0M116.9 178.4h0M132.3 125.9h0M126.2 164.3h0M118.1 204.0h0M110.5 130.5h0M125.3 215.6h0M126.9 178.2h0M114.4 171.7h0M127.8 174.9h0M123.3 184.1h0M127.0 181.3h0M123.0 179.3h0M132.1 140.3h0M132.4 125.6h0M126.5 191.7h0M127.4 155.3h0M131.6 132.9h0M127.2 184.5h0M123.1 193.3h0M112.3 155.8h0M123.4 214.7h0M131.3 136.5h0M114.5 141.4h0M126.9 145.1h0M132.6 156.2h0M126.5 174.1h0M109.2 135.5h0M126.2 153.7h0M125.9 214.7h0M122.5 227.4h0M126.8 147.6h0M127.9 166.8h0M128.0 205.8h0M127.0 172.1h0M109.0 145.6h0M124.6 221.3h0M128.2 148.9h0M123.9 228.1h0M132.8 140.8h0M123.5 192.2h0M122.8 225.4h0M133.9 135.0h0M111.2 215.5h0M131.0 138.1h0M110.8 182.8h0M116.7 222.0h0M122.9 220.7h0M133.2 147.2h0M112.4 144.5h0M110.7 174.0h0M125.7 150.6h0M121.8 213.2h0M112.1 124.2h0M131.0 127.8h0M124.2 191.3h0M112.4 126.5h0M124.4 201.2h0M127.5 168.8h0M127.4 166.0h0M129.0 198.7h0M122.0 228.0h0M132.2 143.9h0M123.7 216.1h0M131.2 149.2h0M128.4 160.4h0M130.2 120.7h0M124.3 222.5h0M129.9 145.8h0M130.0 188.5h0M132.5 194.5h0M124.4 214.6h0M121.8 230.0h0M131.2 184.7h0M127.4 164.2h0M111.7 180.2h0M130.3 221.6h0M128.2 150.3h0M123.4 224.4h0M126.1 171.4h0M123.0 184.2h0M130.6 146.4h0M134.9 117.2h0M114.3 159.2h0M115.0 150.6h0M115.6 217.2h0M113.6 210.6h0M122.8 219.7h0M129.9 183.2h0M125.5 150.2h0M132.7 158.4h0M124.3 179.9h0M128.5 161.9h0M135.0 138.8h0M122.2 208.4h0M116.4 170.9h0M125.6 221.9h0M133.1 216.9h0M116.1 210.7h0M128.7 169.4h0M114.3 137.2h0M115.4 210.4h0M117.1 212.1h0M127.3 144.2h0M124.0 162.8h0M123.5 227.5h0M127.1 213.6h0M115.7 156.5h0M128.3 133.5h0M123.9 164.4h0M113.5 213.7h0M130.3 140.0h0M122.5 194.5h0M132.3 189.1h0M123.8 220.3h0M110.0 157.1h0M115.4 153.4h0M130.9 184.9h0M131.9 176.3h0M115.6 194.7h0M114.8 152.8h0M113.5 152.3h0M127.1 210.6h0M126.1 165.5h0M109.3 174.4h0M123.3 188.3h0M115.6 175.4h0M118.5 224.7h0M144.3 163.8h0M130.6 143.6h0M123.7 223.5h0M126.4 152.8h0M123.7 212.2h0M129.9 185.5h0M127.3 154.0h0M112.3 132.3h0M112.0 151.6h0M126.2 157.0h0M126.1 148.9h0M124.1 176.1h0M126.2 189.3h0M111.4 145.5h0M122.4 224.2h0M119.2 221.9h0M116.0 218.9h0M116.7 173.9h0M125.9 204.6h0M119.4 223.0h0M131.3 121.3h0M114.6 186.4h0M118.3 222.3h0M116.6 209.6h0M112.1 127.3h0M127.6 150.7h0M123.5 221.4h0M124.3 189.2h0M118.5 202.5h0M133.3 128.9h0M139.7 135.8h0M114.8 186.4h0M129.8 122.9h0M131.5 104.3h0M112.1 126.4h0M122.3 226.7h0M125.4 148.3h0M117.7 191.9h0M124.8 178.7h0M110.3 170.5h0M116.9 196.6h0M112.8 203.2h0M122.4 225.3h0M122.3 212.2h0M116.8 164.8h0M129.2 204.4h0M118.2 223.2h0M119.3 222.5h0M126.5 193.5h0M131.7 118.5h0M126.2 153.3h0M123.8 185.2h0M127.8 158.0h0M123.9 212.0h0M123.4 178.1h0M123.3 185.7h0M124.7 215.8h0M105.8 165.0h0M122.5 223.0h0M124.4 194.2h0M130.8 149.5h0M118.5 219.4h0M129.2 147.2h0M110.3 142.4h0M132.5 133.8h0M129.5 141.0h0M112.4 178.9h0M111.7 142.3h0M112.5 161.2h0M118.9 219.9h0M123.6 212.9h0M124.9 172.0h0M114.5 142.9h0M126.6 149.6h0M134.5 112.9h0M128.7 120.1h0M129.5 198.4h0M121.6 229.3h0M129.2 168.4h0M119.3 226.5h0M114.0 207.4h0M131.7 151.2h0M111.6 123.9h0M122.3 224.4h0M115.3 179.5h0M117.0 223.0h0M126.6 208.6h0M125.8 188.4h0M118.6 229.6h0M108.2 168.7h0M135.3 166.3h0M127.0 210.6h0M108.0 179.2h0M128.9 184.8h0M121.7 227.0h0M113.5 148.7h0M124.0 204.0h0M129.2 130.8h0M114.6 188.6h0M131.8 167.0h0M114.8 221.0h0M130.7 113.0h0M112.4 121.5h0M127.1 141.6h0M128.8 155.0h0M132.4 106.0h0M124.8 221.9h0M128.0 214.1h0M113.3 141.1h0M111.3 123.1h0M125.7 173.5h0M130.8 108.4h0M132.0 152.3h0M134.6 124.5h0M124.9 220.6h0M113.9 173.1h0M122.2 202.0h0M113.3 181.4h0M114.2 204.2h0M129.3 157.3h0M119.2 223.9h0M112.4 129.2h0M129.5 143.9h0M128.9 217.6h0M113.3 199.3h0M128.1 130.3h0M118.8 223.4h0M127.8 137.1h0M125.7 182.4h0M131.7 104.9h0M136.6 152.0h0M128.4 150.3h0M111.1 185.9h0M113.6 132.3h0M126.3 196.1h0M117.9 180.7h0M117.0 186.1h0M130.6 134.8h0M126.7 168.4h0M121.9 228.4h0M124.7 211.3h0M116.1 205.1h0M129.2 143.9h0M135.6 121.5h0M114.1 209.3h0M123.0 200.7h0M128.5 135.7h0M113.2 155.0h0M111.1 198.9h0M113.7 145.1h0M128.0 220.2h0M125.2 220.5h0M116.4 169.0h0M114.0 165.5h0M135.1 133.7h0M126.2 176.9h0M128.8 124.4h0M131.7 121.0h0M131.0 129.4h0M123.2 224.1h0M119.0 219.3h0M118.0 209.3h0M128.2 128.0h0M128.5 169.4h0M126.8 180.0h0M117.9 202.6h0M121.7 229.9h0M123.3 180.8h0M127.4 131.6h0M123.5 192.8h0M129.9 148.6h0M131.6 119.4h0M135.0 129.7h0M131.5 133.7h0M116.1 158.7h0M115.8 210.6h0M131.5 151.9h0M111.3 150.1h0M124.0 214.6h0M116.6 166.8h0M113.2 129.5h0M126.3 183.1h0M115.8 161.2h0M111.7 162.1h0M111.1 173.3h0M127.1 141.9h0M132.8 189.7h0M127.0 183.1h0M125.1 156.6h0M127.1 192.2h0M123.6 190.9h0M132.8 164.6h0M123.4 217.9h0M122.6 196.3h0M112.6 157.3h0M126.6 205.4h0M122.1 229.5h0M127.3 207.5h0M117.9 200.7h0M124.1 205.0h0M125.6 191.2h0M114.0 153.4h0M127.6 133.2h0M123.6 216.6h0M124.5 181.0h0M129.4 161.6h0M130.4 131.0h0M113.2 182.8h0M128.9 206.0h0M124.2 199.0h0M133.1 125.7h0M111.3 148.8h0M129.6 117.9h0M128.0 130.6h0M133.0 134.8h0M131.4 167.7h0M129.4 120.4h0M118.1 187.6h0M128.1 136.8h0M116.7 216.6h0M108.5 175.8h0M112.4 175.3h0M131.1 113.4h0M129.4 136.8h0M122.0 219.4h0M115.1 158.0h0M116.1 166.8h0M128.3 192.3h0M134.1 100.8h0M106.9 140.4h0M111.1 181.2h0M113.1 195.0h0M130.6 150.0h0M115.7 212.3h0M135.1 181.2h0M124.6 188.0h0M114.3 217.9h0M131.8 126.5h0M132.8 167.0h0M124.7 181.4h0M125.9 167.2h0M124.7 217.9h0M116.8 203.4h0M124.4 177.5h0M111.0 164.0h0M133.5 149.8h0M114.4 161.3h0M118.3 219.6h0M124.2 217.4h0M128.2 182.0h0M139.5 177.9h0M123.0 226.9h0M131.0 123.4h0M117.6 179.6h0M117.8 221.7h0M113.5 203.1h0M111.9 141.1h0M123.2 219.8h0M114.9 172.4h0M116.5 175.9h0M116.2 176.8h0M125.9 213.7h0M117.0 188.0h0M133.0 138.3h0M113.3 169.9h0M115.1 172.6h0M123.8 193.7h0M126.8 143.6h0M122.9 222.6h0M127.5 178.9h0M129.2 181.7h0M113.0 191.7h0M129.3 130.9h0M127.9 141.7h0M109.9 155.6h0M116.3 182.7h0M127.3 164.9h0M126.3 196.7h0M129.2 150.8h0M122.6 213.8h0M125.2 218.1h0M118.3 215.7h0M123.5 196.9h0M126.5 143.9h0M122.4 200.0h0M127.7 143.4h0M126.1 179.4h0M112.0 140.8h0M131.6 145.4h0M118.1 193.9h0M128.2 123.5h0M128.4 203.3h0M123.9 195.4h0M124.4 185.3h0M127.6 131.8h0M118.9 230.0h0M133.2 202.5h0M127.2 201.9h0M112.4 168.8h0M124.6 203.1h0M127.7 144.7h0M116.3 208.7h0M121.9 221.4h0M131.9 159.1h0M126.2 151.7h0M124.4 199.5h0M119.2 208.6h0M111.8 142.2h0M138.7 182.6h0M127.0 218.5h0M133.7 190.1h0M118.8 223.1h0M115.3 220.1h0M106.7 183.2h0M129.7 148.6h0M122.6 225.6h0M122.9 227.2h0M118.2 203.3h0M139.0 126.6h0M117.3 195.8h0M122.3 229.5h0M123.4 190.5h0M114.0 156.8h0M114.1 206.7h0M129.9 135.9h0M129.6 156.0h0M125.4 179.0h0M127.3 159.9h0M130.4 157.1h0M124.2 166.6h0M125.2 155.4h0M111.1 125.7h0M125.1 191.9h0M126.9 143.4h0M125.0 218.0h0M126.4 140.6h0M124.9 197.1h0M128.1 124.6h0M128.6 169.2h0M133.7 113.2h0M125.3 199.1h0M134.4 132.5h0M134.0 118.2h0M130.3 126.4h0M118.7 230.1h0M121.6 229.5h0M116.7 165.1h0M118.2 221.7h0M131.3 131.7h0M110.1 129.9h0M132.9 186.9h0M128.7 157.2h0M131.2 177.0h0M107.4 140.3h0M108.4 193.5h0M134.7 187.6h0M111.5 130.8h0M130.1 198.7h0M114.1 182.7h0M116.5 223.0h0M112.0 122.7h0M126.9 165.7h0M118.0 199.3h0M116.2 184.4h0M124.2 160.0h0M126.6 206.4h0M130.3 122.0h0M136.1 143.4h0M123.3 208.8h0M130.8 191.9h0M115.0 170.2h0M128.8 130.2h0M115.9 172.6h0M115.9 171.9h0M124.4 195.0h0M133.4 110.5h0M123.8 194.2h0M129.0 131.5h0M115.8 160.9h0M115.7 187.6h0M108.7 124.2h0M127.4 167.7h0M127.9 217.4h0M128.9 136.5h0M107.4 163.9h0M125.3 174.5h0M126.5 145.3h0M126.4 147.7h0M112.4 138.3h0M114.4 167.3h0M135.7 182.9h0M115.6 159.8h0M126.0 213.7h0M117.9 188.2h0M124.1 227.9h0M134.0 134.3h0M122.1 212.7h0M126.0 202.9h0M130.0 158.0h0M116.0 169.7h0M122.8 210.7h0M126.1 214.4h0M114.2 191.4h0M124.7 209.1h0M133.8 123.2h0M124.6 211.8h0M131.1 210.1h0M127.2 157.7h0M123.4 198.3h0M128.5 129.2h0M123.0 200.0h0M128.5 144.6h0M130.8 174.7h0M126.0 218.4h0M116.5 189.5h0M136.4 170.0h0M119.1 227.0h0M125.0 201.2h0M131.8 187.8h0M130.9 113.9h0M128.0 151.1h0M132.6 119.1h0M132.4 184.6h0M114.5 141.3h0M129.1 177.4h0M130.1 137.0h0M127.7 146.9h0M114.9 143.9h0M114.0 173.9h0M116.8 181.9h0M116.3 158.5h0M116.9 218.3h0M109.4 135.6h0M128.6 138.2h0M109.7 136.7h0M129.6 125.1h0M125.6 185.8h0M127.0 173.4h0M132.6 123.9h0M116.1 204.4h0M122.3 228.4h0M125.3 152.7h0M116.8 217.6h0M130.5 137.2h0M122.4 224.1h0M117.7 186.7h0M127.2 168.2h0M128.7 123.1h0M134.4 178.0h0M127.4 162.7h0M131.7 110.5h0M132.5 118.2h0M118.2 190.5h0M126.7 146.9h0M128.4 208.5h0M126.7 206.2h0M125.8 144.7h0M129.0 222.3h0M112.1 153.0h0M128.4 135.3h0M131.4 129.5h0M134.4 157.3h0M125.9 153.2h0M123.9 188.6h0M118.2 218.2h0M123.3 202.7h0M127.1 189.9h0M122.7 228.8h0M111.3 184.3h0M112.9 183.6h0M117.5 202.6h0M118.9 214.9h0M122.7 228.2h0M141.7 162.7h0M116.6 183.9h0M126.9 162.6h0M127.2 160.1h0M122.4 204.6h0M131.2 162.4h0M113.0 128.5h0M114.8 180.9h0M116.9 174.8h0M117.0 184.6h0M124.1 209.5h0M126.8 156.9h0M123.0 226.7h0M127.1 135.9h0M124.5 192.2h0M130.3 165.0h0M119.1 214.7h0M117.7 178.7h0M111.5 197.6h0M121.9 223.1h0M129.5 122.9h0M111.2 137.2h0M123.1 226.9h0M131.1 114.6h0M128.1 133.6h0M114.2 150.2h0M117.5 209.9h0M131.4 116.7h0M133.7 194.1h0M134.9 186.3h0M131.7 107.1h0M128.7 182.0h0M122.3 225.4h0M115.7 150.5h0M117.1 182.1h0M124.5 222.7h0M129.8 110.2h0M123.8 164.8h0M130.2 176.8h0M129.0 129.3h0M129.4 141.4h0M113.1 175.3h0M117.3 197.3h0M128.7 159.3h0M109.0 130.7h0M112.2 152.6h0M129.0 157.3h0M134.6 154.4h0M129.4 161.2h0M131.0 216.0h0M114.2 154.7h0M105.3 183.4h0M117.0 218.9h0M114.4 178.6h0M122.6 227.5h0M128.3 174.0h0M128.1 191.5h0M132.3 127.3h0M123.4 184.2h0M104.7 160.6h0M135.9 128.4h0M135.6 140.9h0M118.7 228.4h0M119.3 221.9h0M125.0 191.3h0M130.3 120.7h0M132.5 118.6h0M133.0 174.3h0M118.8 230.0h0M133.3 144.8h0M114.5 170.6h0M125.6 185.7h0M118.9 224.4h0M126.9 191.0h0M117.7 219.1h0M108.5 158.3h0M116.1 215.9h0M111.1 167.6h0M129.3 129.2h0M132.0 146.9h0M128.5 152.8h0M115.2 151.3h0M113.1 168.5h0M125.1 157.3h0M122.3 212.9h0M127.8 191.1h0M115.6 217.4h0M111.5 148.1h0M130.2 143.9h0M119.1 206.0h0M109.4 153.4h0M133.1 129.8h0M122.4 199.2h0M122.6 211.9h0M126.5 197.6h0M127.8 201.6h0M116.4 174.9h0M122.3 205.7h0M114.6 166.8h0M129.1 216.6h0M129.0 134.8h0M112.1 158.0h0M124.5 224.3h0M124.7 161.6h0M122.1 214.0h0M114.3 179.5h0M127.5 203.4h0M117.2 185.3h0M108.4 135.2h0M117.7 222.2h0M130.5 129.0h0M110.6 120.0h0M115.8 210.4h0M123.4 224.1h0M117.8 204.8h0M132.4 117.9h0M128.6 146.0h0M114.4 140.4h0M114.8 153.1h0M122.0 214.2h0M126.8 198.4h0M128.7 158.4h0M129.7 191.4h0M114.0 206.1h0M115.8 161.3h0M130.8 174.0h0M123.9 206.6h0M115.5 222.2h0M137.0 147.7h0M116.8 184.1h0M108.3 134.9h0M123.5 188.7h0M116.8 193.8h0M112.6 175.0h0M113.1 139.3h0M118.8 211.3h0M125.0 160.5h0M127.5 133.5h0M118.2 211.5h0M130.8 172.3h0M113.0 142.1h0M119.1 229.6h0M108.4 161.4h0M134.4 141.0h0M115.4 164.3h0M127.6 196.5h0M131.3 158.9h0M125.0 214.5h0M114.3 144.7h0M128.4 176.4h0M114.0 192.3h0M118.9 222.5h0M127.4 182.1h0M130.4 115.3h0M117.7 217.7h0M123.3 194.8h0M125.3 215.0h0M123.4 214.9h0M112.3 163.4h0M133.5 130.4h0M109.3 180.1h0M115.4 206.7h0M111.9 118.9h0M114.5 138.8h0M126.0 179.6h0M125.4 165.2h0M127.5 133.3h0M122.4 221.7h0M133.7 146.1h0M109.9 157.9h0M117.4 201.6h0M112.5 138.8h0M127.5 155.8h0M126.3 221.4h0M115.5 211.8h0M121.7 229.0h0M123.7 206.9h0M124.3 201.7h0M106.1 139.8h0M134.8 117.8h0M113.6 146.3h0M129.8 131.4h0M126.2 146.1h0M137.3 185.2h0M131.3 125.5h0M112.6 204.9h0M113.1 141.5h0M117.9 194.6h0M118.3 228.3h0M128.7 147.5h0M111.4 133.1h0M110.3 129.2h0M114.6 144.0h0M129.9 158.1h0M124.0 191.9h0M125.8 183.0h0M121.7 221.6h0M121.9 218.8h0M128.3 174.9h0M116.8 223.6h0M116.8 207.8h0M118.7 205.2h0M118.6 212.0h0M127.8 131.3h0M117.3 219.3h0M129.2 175.5h0M127.5 147.8h0M122.4 225.8h0M126.5 186.7h0M112.7 152.5h0M126.6 167.5h0M124.4 203.7h0M128.2 123.5h0M118.6 229.3h0M124.8 178.8h0M118.9 226.6h0M132.5 193.9h0M117.9 211.9h0M123.2 203.8h0M127.7 159.1h0M113.0 128.3h0M117.1 199.6h0M125.6 169.8h0M112.3 173.9h0M119.0 218.1h0M115.1 222.7h0M131.6 118.9h0M138.4 153.4h0M118.9 229.6h0M128.6 130.5h0M126.4 139.7h0M117.9 209.3h0M118.4 201.0h0M131.8 124.0h0M114.4 151.9h0M114.2 158.7h0M130.7 215.9h0M129.7 145.8h0M128.1 134.6h0M124.4 186.8h0M126.3 165.7h0M114.8 157.1h0M112.2 123.1h0M126.2 157.6h0M122.7 188.3h0M124.5 165.8h0M118.0 214.5h0M123.9 188.0h0M115.6 210.8h0M116.2 202.6h0M117.0 197.6h0M111.9 159.3h0M125.9 220.2h0M125.9 189.5h0M131.0 152.6h0M134.2 174.1h0M117.5 195.9h0M132.4 155.8h0M116.7 225.5h0M135.3 171.9h0M131.7 158.0h0M127.9 162.9h0M125.2 199.3h0M129.6 115.0h0M135.9 117.8h0M123.9 213.0h0M126.1 154.2h0M128.8 184.0h0M118.2 217.1h0M114.0 180.3h0M127.4 168.0h0M112.1 197.8h0M118.6 215.3h0M131.3 107.7h0M126.6 149.8h0M125.5 161.3h0M124.4 214.1h0M129.7 151.6h0M115.0 179.9h0M117.1 169.4h0M132.4 171.0h0M122.4 198.8h0M128.0 220.2h0M121.9 228.7h0M122.9 219.5h0M123.6 208.6h0M134.0 141.2h0M129.3 143.7h0M132.3 107.0h0M130.5 123.6h0M118.9 208.4h0M122.2 214.0h0M122.5 227.5h0M126.7 149.9h0M122.0 229.1h0M116.7 201.3h0M122.5 228.9h0M125.8 170.0h0M111.9 170.5h0M112.2 157.0h0M125.9 147.9h0M124.7 177.7h0M126.6 197.1h0M125.8 153.3h0M124.5 174.5h0M122.9 214.5h0M122.3 199.9h0M130.9 139.0h0M116.3 169.3h0M132.8 156.4h0M117.8 185.5h0M131.7 174.0h0M115.4 185.1h0M123.0 205.8h0M134.4 211.5h0M111.4 131.4h0M109.0 143.5h0M112.6 133.5h0M124.6 200.3h0M113.7 190.7h0M131.4 162.1h0M123.2 225.5h0M131.5 102.7h0M125.8 169.6h0M126.1 142.8h0M118.2 219.7h0M122.6 213.3h0M123.4 203.4h0M129.1 160.2h0M128.7 136.0h0M129.1 117.1h0M118.2 191.4h0M126.1 191.1h0M117.6 220.4h0M118.8 214.5h0M125.1 153.1h0M119.3 221.8h0M131.0 135.4h0M127.1 165.4h0M129.2 130.8h0M112.4 163.9h0M111.6 191.4h0M128.6 131.7h0M108.3 148.0h0M129.3 129.6h0M122.0 225.0h0M131.9 159.8h0M123.4 187.4h0M111.9 176.0h0M126.3 185.6h0M136.5 148.3h0M129.1 122.2h0M130.8 126.2h0M111.3 122.2h0M116.2 163.1h0M129.3 137.0h0M118.8 212.1h0M122.0 219.1h0M124.7 203.9h0M124.4 166.0h0M131.2 163.5h0M108.1 155.9h0M116.3 163.6h0M112.7 151.7h0M110.3 138.8h0M110.5 168.8h0M123.3 172.6h0M109.7 142.0h0M132.0 146.8h0M133.3 117.2h0M110.9 129.1h0M132.5 139.7h0M131.6 116.9h0M131.7 187.4h0M134.0 126.3h0M130.1 134.6h0M112.9 175.2h0M131.8 107.1h0M117.7 213.2h0M122.6 228.3h0M113.1 183.2h0M122.5 206.4h0M129.5 171.3h0M128.2 158.3h0M130.3 166.5h0M113.9 184.6h0M111.9 138.6h0M122.4 200.4h0M119.3 227.9h0M124.2 162.1h0M122.8 210.2h0M122.7 221.7h0M118.5 202.3h0M119.1 222.1h0M126.0 203.9h0M109.9 180.7h0M126.2 193.4h0M116.7 189.6h0M123.0 182.5h0M123.9 224.1h0M130.0 199.8h0M109.9 166.8h0M116.7 194.1h0M118.8 228.1h0M123.6 225.5h0M124.5 198.7h0M105.3 141.6h0M127.4 154.2h0M116.6 187.8h0M133.1 148.7h0M123.8 187.7h0M122.4 192.9h0M130.2 211.2h0M115.9 186.4h0M130.5 112.7h0M116.9 214.9h0M130.0 111.0h0M130.3 126.2h0M125.4 157.7h0" stroke="#777" stroke-opacity="0.6" stroke-width="1.9" stroke-linecap="round" fill="none"/>
<path d="M129.4 132.5h0M113.8 159.6h0M115.5 182.0h0M128.9 150.7h0M123.3 177.3h0M126.6 166.4h0M124.3 183.2h0M113.9 189.8h0M117.1 168.7h0M112.1 209.3h0M123.6 171.3h0M122.8 202.8h0M130.4 121.8h0M124.1 226.8h0M136.4 151.9h0M116.1 205.9h0M118.1 195.1h0M132.7 121.0h0M127.0 177.6h0M113.5 188.3h0M131.7 106.2h0M133.6 143.5h0M112.0 128.5h0M114.9 151.1h0M116.1 163.1h0M124.8 161.0h0M131.2 203.9h0M122.4 205.5h0M119.2 228.1h0M131.7 115.8h0M133.4 105.7h0M107.7 168.4h0M123.0 227.6h0M127.8 132.9h0M128.9 133.4h0M124.7 217.4h0M117.1 194.5h0M128.4 144.1h0M131.5 135.2h0M130.6 152.0h0M130.0 154.3h0M114.8 184.8h0M124.7 214.6h0M131.9 124.8h0M114.7 144.1h0M129.4 116.4h0M117.7 207.8h0M131.8 121.8h0M116.6 185.9h0M114.4 151.5h0M124.3 178.8h0M129.0 154.9h0M126.3 201.6h0M125.1 179.2h0M125.5 173.1h0M116.6 203.7h0M129.7 151.4h0M118.8 216.5h0M116.4 170.9h0M127.3 133.1h0M128.9 162.1h0M131.5 121.3h0M115.2 159.7h0M121.9 226.9h0M123.2 225.1h0M130.1 170.6h0M132.4 158.4h0M116.9 192.2h0M125.0 226.6h0M116.9 191.2h0M131.3 107.5h0M123.3 214.2h0M117.2 209.0h0M126.5 194.1h0M122.2 224.3h0M115.4 159.2h0M124.1 223.5h0M124.4 157.6h0M128.3 199.8h0M113.5 186.6h0M128.1 157.0h0M112.6 171.3h0M128.7 144.2h0M109.1 125.9h0M117.7 213.2h0M112.9 153.1h0M126.7 188.1h0M128.3 136.0h0M124.2 210.6h0M123.7 190.4h0M125.5 217.5h0M129.3 196.2h0M125.0 190.5h0M123.3 197.5h0M111.9 199.5h0M127.6 195.8h0M130.1 150.0h0M124.6 178.5h0M118.6 204.7h0M123.6 177.9h0M129.1 122.5h0M128.1 190.8h0M124.3 176.6h0M125.1 150.4h0M124.1 216.5h0M107.7 101.3h0M127.3 134.5h0M113.5 179.4h0M129.3 134.0h0M128.9 195.3h0M112.3 155.7h0M112.6 143.2h0M126.4 150.1h0M138.5 122.1h0M114.8 153.4h0M116.5 221.9h0M127.9 131.9h0M116.6 218.5h0M113.4 219.6h0M130.7 130.2h0M126.5 150.0h0M110.4 148.7h0M128.1 161.7h0M124.4 170.7h0M128.2 202.7h0M127.2 172.5h0M122.2 208.3h0M116.1 213.5h0M109.7 158.5h0M134.9 145.0h0M115.7 221.8h0M130.4 131.0h0M110.0 166.1h0M129.4 151.4h0M123.0 185.6h0M111.0 150.8h0M108.4 166.3h0M130.6 123.8h0M122.6 192.2h0M112.8 167.9h0M107.4 165.3h0M131.1 136.0h0M128.4 185.1h0M127.4 166.6h0M133.7 130.2h0M132.1 118.2h0M128.6 210.5h0M137.4 122.5h0M121.7 228.0h0M121.8 230.2h0M132.8 179.3h0M110.9 191.2h0M108.4 132.9h0M112.8 163.1h0M111.4 155.0h0M127.5 203.8h0M118.7 197.5h0M129.3 183.9h0M130.5 108.7h0M109.1 180.2h0M133.4 176.1h0M130.4 147.6h0M129.1 139.4h0M131.5 145.4h0M124.2 195.4h0M123.6 227.6h0M127.1 205.2h0M114.0 169.2h0M126.3 199.3h0M122.0 224.7h0M113.9 216.0h0M118.8 204.4h0M123.6 188.0h0M129.0 145.3h0M112.4 162.1h0M127.4 141.1h0M116.9 198.9h0M124.0 220.4h0M128.3 159.9h0M109.0 167.2h0M126.8 161.7h0M116.9 167.1h0M130.1 123.5h0M123.9 176.7h0M125.2 180.2h0M123.4 179.6h0M116.5 195.9h0M130.3 119.1h0M122.3 210.2h0M114.9 173.3h0M132.3 172.0h0M125.0 211.7h0M128.2 160.3h0M109.8 136.3h0M131.2 124.9h0M118.9 214.0h0M112.5 188.0h0M127.7 138.6h0M128.4 140.4h0M125.2 164.4h0M125.2 159.8h0M117.9 214.4h0M114.2 172.1h0M116.5 208.7h0M129.4 203.2h0M129.3 204.3h0M114.8 145.7h0M127.4 170.0h0M119.4 216.0h0M118.6 227.0h0M121.7 229.7h0M130.1 111.2h0M125.2 192.2h0M110.5 172.0h0M113.8 151.1h0M119.4 225.0h0M115.6 194.8h0M117.4 223.0h0M113.1 208.7h0M116.0 174.8h0M126.4 190.2h0M121.7 228.7h0M113.4 213.0h0M115.3 155.7h0M117.8 225.9h0M124.8 211.8h0M111.2 127.5h0M126.1 216.3h0M136.4 179.5h0M115.9 186.9h0M109.9 179.2h0M109.1 135.4h0M130.7 186.0h0M116.3 180.5h0M114.6 141.1h0M127.0 196.3h0M124.0 190.1h0M129.8 161.6h0M113.8 180.8h0M109.9 139.6h0M110.8 145.5h0M126.8 206.2h0M117.6 220.4h0M114.9 185.4h0M112.2 147.5h0M124.1 172.8h0M128.5 124.6h0M134.9 205.0h0M123.6 173.1h0M115.8 161.7h0M124.3 220.0h0M123.8 210.5h0M112.2 150.7h0M118.5 225.7h0M131.1 200.8h0M125.9 186.1h0M133.2 160.6h0M122.3 220.2h0M128.3 218.0h0M110.8 186.9h0M114.2 158.5h0M112.2 159.3h0M130.5 123.6h0M123.0 201.9h0M130.2 181.6h0M124.9 180.5h0M130.0 129.9h0M130.8 140.1h0M112.4 138.7h0M130.8 187.0h0M125.6 146.2h0M131.9 105.1h0M127.6 148.8h0M129.8 118.6h0M123.9 210.6h0M127.0 207.3h0M133.3 141.9h0M129.6 183.8h0M132.0 183.2h0M118.5 207.6h0M112.4 127.0h0M126.0 191.0h0M112.6 149.8h0M116.4 204.6h0M131.3 167.9h0M117.6 218.3h0M129.0 119.8h0M125.3 151.4h0M112.8 146.5h0M130.2 134.4h0M116.0 182.4h0M130.9 108.0h0M122.9 214.4h0M110.2 132.3h0M125.0 203.2h0M128.1 154.1h0M126.2 181.8h0M124.7 211.9h0M134.7 126.2h0M137.8 151.4h0M115.1 160.7h0M112.5 142.1h0M126.2 195.1h0M122.6 198.7h0M119.0 230.1h0M123.6 215.1h0M126.5 190.2h0M128.6 140.1h0M126.2 187.0h0M126.5 190.2h0M110.7 202.3h0M116.1 173.1h0M125.3 217.6h0M125.3 218.4h0M128.7 161.4h0M129.3 186.8h0M126.9 150.4h0M126.7 216.6h0M131.8 146.8h0M114.9 179.2h0M130.7 126.1h0M118.3 203.4h0M113.9 196.1h0M127.7 184.4h0M134.4 139.3h0M112.3 162.3h0M114.0 136.6h0M129.6 136.7h0M129.7 123.2h0M113.7 135.3h0M114.7 158.5h0M126.1 162.5h0M112.9 126.8h0M112.9 179.6h0M112.3 134.9h0M132.3 120.4h0M132.8 144.5h0M124.8 218.3h0M125.3 184.7h0M123.7 226.9h0M130.3 133.5h0M122.3 217.3h0M113.2 140.7h0M109.1 142.8h0M127.5 167.5h0M112.0 178.2h0M130.4 107.5h0M118.6 205.5h0M133.7 169.2h0M131.8 165.0h0M125.6 172.9h0M125.2 173.9h0M124.1 214.1h0M130.0 180.1h0M126.4 153.7h0M127.2 196.2h0M130.5 202.7h0M118.1 217.7h0M114.4 206.4h0M123.1 195.2h0M126.4 212.0h0M117.5 210.0h0M124.6 216.8h0M129.8 141.9h0M134.7 117.4h0M110.4 123.4h0M132.8 113.3h0M115.7 210.5h0M128.3 169.6h0M108.2 108.3h0M110.6 177.7h0M125.9 199.1h0M122.9 199.1h0M110.5 178.9h0M116.9 195.1h0M116.2 194.9h0M109.1 168.6h0M122.8 187.3h0M130.0 156.2h0M114.1 141.8h0M108.3 148.2h0M119.0 221.1h0M116.0 195.6h0M118.7 227.2h0M117.2 203.4h0M123.1 217.5h0M110.3 147.4h0M123.5 180.6h0M118.6 194.1h0M118.4 228.9h0M130.9 112.7h0M131.0 174.4h0M124.6 155.1h0M125.7 190.5h0M123.6 221.7h0M125.2 157.0h0M132.8 136.0h0M123.3 206.8h0M132.4 169.4h0M112.3 124.2h0M125.2 162.1h0M132.4 111.8h0M134.9 127.0h0M123.7 168.1h0M130.5 108.3h0M115.1 176.2h0M122.9 223.6h0M115.2 198.5h0M126.5 188.8h0M112.7 148.7h0M131.1 198.4h0M117.6 177.9h0M124.9 201.3h0M115.2 190.0h0M126.4 152.6h0M134.8 164.8h0M114.8 152.6h0M111.8 150.7h0M136.4 182.7h0M115.5 214.5h0M130.0 194.4h0M124.0 228.4h0M127.1 206.8h0M131.0 132.5h0M128.2 131.2h0M118.3 196.1h0M125.0 212.5h0M111.8 199.7h0M117.9 200.9h0M116.1 218.7h0M127.0 177.7h0M130.2 176.3h0M131.0 138.7h0M122.8 225.5h0M111.6 133.8h0M112.8 169.9h0M117.2 225.9h0M128.5 189.5h0M116.8 204.9h0M122.0 218.9h0M118.7 221.0h0M119.3 216.5h0M131.0 125.6h0M123.5 175.8h0M125.2 157.0h0M124.3 192.1h0M130.6 146.4h0M125.8 146.6h0M112.6 186.1h0M107.5 128.0h0M111.5 140.6h0M119.0 227.3h0M132.5 132.6h0M129.8 190.0h0M105.1 92.0h0M124.8 162.8h0M110.3 202.0h0M126.0 221.3h0M114.9 221.4h0M134.4 112.1h0M118.0 207.3h0M128.4 144.0h0M130.7 130.1h0M115.2 198.8h0M112.7 141.6h0M123.8 166.0h0M112.3 158.6h0M129.0 119.3h0M117.3 217.0h0M114.1 185.0h0M125.3 172.3h0M124.3 169.8h0M128.7 130.5h0M114.6 151.9h0M131.5 118.7h0M129.0 150.0h0M131.6 129.8h0M115.8 166.6h0M123.5 220.1h0M115.5 179.4h0M113.4 146.1h0M125.5 175.9h0M123.0 183.0h0M111.4 161.6h0M124.7 200.5h0M110.5 139.7h0M132.5 137.1h0M129.8 127.3h0M127.2 138.6h0M127.2 136.0h0M118.2 194.1h0M136.1 161.4h0M126.4 162.4h0M126.7 146.5h0M113.7 130.4h0M113.1 208.0h0M127.5 195.5h0M128.9 116.8h0M129.0 170.0h0M108.6 138.4h0M125.4 150.0h0M135.1 134.1h0M133.2 132.7h0M131.4 109.0h0M129.4 204.5h0M129.9 132.1h0M128.1 207.5h0M127.8 156.5h0M112.7 158.0h0M109.4 128.4h0M130.9 119.4h0M114.4 204.2h0M122.7 201.9h0M126.5 170.4h0M114.4 180.0h0M126.5 165.3h0M116.6 194.8h0M115.3 147.0h0M106.3 127.7h0M115.8 206.5h0M122.1 223.4h0M114.0 192.0h0M132.8 120.6h0M118.0 184.1h0M131.5 126.3h0M128.5 172.3h0M114.7 186.3h0M130.4 127.1h0M122.3 213.9h0M127.6 198.1h0M126.1 186.7h0M114.7 214.3h0M111.4 164.5h0M125.3 192.3h0M116.2 157.0h0M124.0 223.9h0M111.7 118.1h0M131.1 176.5h0M114.9 172.9h0M119.3 217.4h0M126.0 146.9h0M115.6 172.5h0M110.0 161.9h0M122.5 190.0h0M118.2 220.2h0M112.4 132.3h0M115.1 196.5h0M129.8 136.0h0M126.8 162.9h0M111.2 175.7h0M138.2 150.3h0M124.4 188.4h0M114.4 159.9h0M124.4 210.5h0M123.4 223.8h0M126.1 165.8h0M126.9 180.2h0M137.6 176.1h0M110.8 146.7h0M126.3 156.3h0M121.9 215.2h0M112.2 175.3h0M132.7 157.9h0M122.9 180.9h0M131.2 138.9h0M117.2 217.0h0M122.4 197.4h0M112.4 163.5h0M124.1 189.7h0M111.8 121.7h0M121.9 229.2h0M123.1 204.0h0M125.2 198.1h0M122.0 225.4h0M126.6 159.7h0M119.2 228.2h0M129.7 182.2h0M129.5 127.4h0M131.9 179.9h0M111.7 152.4h0M123.8 206.8h0M132.8 171.1h0M114.1 135.6h0M112.1 167.2h0M135.1 154.7h0M117.3 196.7h0M127.3 198.4h0M119.3 216.2h0M122.3 228.7h0M114.8 150.3h0M129.0 128.0h0M122.9 218.8h0M112.8 144.1h0M116.0 184.1h0M122.3 202.2h0M127.3 155.8h0M130.9 142.0h0M129.8 120.0h0M134.4 109.3h0M125.6 173.9h0M123.5 227.9h0M129.4 141.8h0M134.3 151.0h0M122.4 193.9h0M125.5 177.7h0M115.1 181.7h0M133.8 128.9h0M130.8 173.6h0M130.5 208.8h0M125.7 183.2h0M130.3 148.6h0M128.6 158.2h0M129.5 170.7h0M112.5 179.9h0M118.0 220.6h0M128.9 183.3h0M116.1 179.7h0M131.7 177.4h0M129.8 173.4h0M111.7 125.7h0M117.1 177.4h0M112.6 142.1h0M130.4 122.5h0M127.3 134.0h0M126.7 220.7h0M111.5 183.3h0M117.1 216.6h0M132.1 139.7h0M116.0 221.5h0M126.4 192.6h0M116.0 173.4h0M132.0 129.3h0M124.2 217.0h0M112.1 214.0h0M125.6 178.3h0M116.7 170.4h0M117.0 182.0h0M122.5 228.0h0M117.4 224.1h0M126.8 151.0h0M125.7 151.3h0M119.0 224.7h0M130.9 208.4h0M121.9 215.9h0M130.5 136.3h0M134.6 139.0h0M125.4 186.2h0M124.0 166.1h0M124.5 183.3h0M123.9 173.5h0M127.7 217.3h0M124.0 187.5h0M125.4 157.0h0M126.5 157.3h0M134.1 175.3h0M129.8 188.2h0M117.5 204.7h0M129.5 117.0h0M111.3 192.5h0M126.6 148.6h0M126.0 184.1h0M114.6 150.8h0M127.9 160.9h0M127.9 181.6h0M119.0 226.6h0M116.5 184.9h0M124.4 168.8h0M122.4 212.9h0M125.8 180.2h0M128.4 152.7h0M111.2 175.3h0M128.4 122.2h0M126.6 153.4h0M128.8 177.3h0M130.0 202.9h0M127.5 206.2h0M132.8 154.7h0M119.2 218.4h0M130.0 150.9h0M117.0 168.6h0M128.6 205.0h0M117.0 172.8h0M125.2 156.7h0M127.8 195.6h0M122.6 224.4h0M116.9 199.8h0M117.1 207.5h0M125.0 197.5h0M115.8 152.0h0M129.1 156.4h0M124.8 215.5h0M122.1 224.6h0M123.7 197.1h0M128.0 129.5h0M127.7 188.4h0M115.0 163.0h0M122.6 202.8h0M110.5 148.5h0M114.4 190.7h0M126.7 193.4h0M113.1 159.1h0M126.0 224.2h0M125.0 218.2h0M129.1 140.6h0M114.5 208.3h0M115.6 182.6h0M128.9 186.8h0M118.5 221.9h0M114.8 195.6h0M115.8 204.2h0M125.7 198.4h0M118.1 191.7h0M117.2 194.9h0M130.6 203.1h0M111.4 158.5h0M132.9 170.0h0M116.8 208.6h0M124.8 189.2h0M127.8 135.2h0M127.1 158.1h0M117.7 180.6h0M128.4 200.3h0M123.3 219.6h0M133.5 132.7h0M133.1 125.9h0M126.7 188.6h0M131.1 117.3h0M114.8 164.2h0M129.3 214.1h0M133.5 138.9h0M131.3 157.2h0M129.7 186.9h0M132.5 155.4h0M128.2 125.8h0M125.7 197.5h0M131.9 184.0h0M130.2 133.3h0M127.7 134.2h0M111.1 178.7h0M111.1 210.3h0M125.0 174.5h0M130.1 117.2h0M130.7 126.8h0M111.4 142.0h0M118.6 205.0h0M133.1 123.4h0M123.5 218.2h0M130.1 192.8h0M128.7 130.3h0M133.8 155.1h0M119.0 225.3h0M124.1 188.4h0M132.2 124.8h0M132.3 168.6h0M122.7 224.8h0M118.6 228.1h0M113.1 158.3h0M115.0 146.9h0M118.5 202.1h0M130.5 107.4h0M113.2 145.2h0M114.1 179.5h0M129.2 151.5h0M118.0 196.1h0M113.8 178.8h0M134.5 147.0h0M121.8 223.6h0M121.9 227.6h0M130.9 105.6h0M121.8 228.6h0M122.9 193.3h0M113.8 195.4h0M138.6 140.2h0M114.3 142.8h0M114.9 167.5h0M132.7 116.8h0M130.9 125.5h0M130.2 167.8h0M125.2 160.5h0M116.7 192.9h0M132.1 129.1h0M131.3 202.5h0M111.5 152.0h0M111.9 192.7h0M118.7 216.0h0M132.9 149.1h0M114.5 148.5h0M112.5 162.6h0M132.9 162.2h0M110.4 183.7h0M128.7 208.8h0M132.5 123.3h0M125.9 178.1h0M110.3 149.5h0M127.3 146.5h0M132.6 111.1h0M129.4 141.1h0M122.9 219.6h0M129.0 168.4h0M119.0 229.7h0M113.5 133.2h0M117.4 194.5h0M130.2 131.8h0M122.7 224.4h0M127.8 167.6h0M113.5 182.4h0M129.9 138.7h0M129.3 123.1h0M117.4 220.9h0M127.9 166.7h0M129.5 211.4h0M112.1 205.1h0M106.4 159.9h0M128.0 142.1h0M124.4 163.8h0M115.5 178.1h0M125.6 195.7h0M118.7 208.3h0M133.4 123.6h0M124.5 191.3h0M122.9 224.1h0M124.9 171.5h0M116.0 197.7h0M123.8 224.3h0M112.6 177.1h0M112.5 128.1h0M116.3 194.6h0M123.4 222.6h0M116.2 216.3h0M132.3 113.6h0M114.6 216.0h0M115.2 149.2h0M112.0 178.1h0M129.3 202.9h0M129.3 172.3h0M123.2 199.3h0M111.7 166.8h0M124.1 168.2h0M121.8 212.5h0M128.6 166.7h0M128.6 151.3h0M132.5 130.1h0M134.0 160.9h0M133.8 134.3h0M117.3 183.7h0M113.1 162.6h0M125.9 146.2h0M130.2 128.5h0M110.7 154.9h0M123.3 191.8h0M124.7 164.4h0M122.0 212.6h0M137.0 178.9h0M137.7 191.0h0M114.0 156.8h0M110.8 163.1h0M118.5 193.1h0M121.7 226.9h0M115.6 150.8h0M122.7 221.8h0M117.1 168.7h0M128.0 161.2h0M131.3 132.2h0M124.1 214.1h0M125.0 155.9h0M122.6 210.2h0M127.2 211.1h0M110.5 138.3h0M118.3 191.1h0M126.1 178.3h0M115.9 217.7h0M114.9 155.5h0M112.1 137.9h0M126.5 149.8h0M126.4 204.3h0M118.3 225.5h0M125.5 194.4h0M123.4 176.0h0M125.9 200.1h0M118.6 197.4h0M124.5 167.1h0M111.0 157.4h0M124.7 224.0h0M123.6 206.1h0M116.7 210.3h0M115.4 198.6h0M117.1 169.3h0M123.0 183.6h0M114.1 207.5h0M119.0 220.3h0M115.8 162.4h0M115.7 184.1h0M115.4 179.2h0M111.6 143.7h0M114.6 182.4h0M114.1 193.4h0M129.8 191.0h0M109.5 141.0h0M131.4 191.7h0M129.2 125.2h0M128.3 164.0h0M123.3 218.6h0M128.6 121.0h0M129.2 134.0h0M132.8 125.3h0M128.7 200.8h0M128.8 194.3h0M116.1 198.9h0M129.7 134.5h0M130.6 149.0h0M123.3 221.8h0M113.6 172.8h0M128.5 212.8h0M113.9 220.3h0M133.7 115.3h0M127.5 142.9h0M131.3 110.4h0M123.2 180.5h0M123.1 183.7h0M116.2 190.9h0M126.4 219.1h0M117.2 177.1h0M113.7 183.1h0M123.8 179.1h0M134.7 130.2h0M116.8 215.0h0M124.6 216.5h0M123.5 207.3h0M118.9 205.5h0M123.3 206.3h0M110.8 123.9h0M109.2 142.3h0M129.0 188.9h0M130.8 119.1h0M136.3 147.5h0M124.8 158.1h0M117.1 213.7h0M124.7 185.5h0M130.3 115.7h0M129.6 146.4h0M126.9 214.0h0M124.0 196.5h0M125.9 170.3h0M123.6 177.2h0M130.2 193.2h0M117.6 180.7h0M129.0 141.8h0M113.8 152.7h0M112.7 125.3h0M114.2 148.2h0M139.0 156.7h0M111.9 165.3h0M123.7 207.8h0M113.2 206.5h0M129.4 117.3h0M130.9 145.5h0M131.1 116.7h0M111.6 173.2h0M117.4 203.7h0M114.7 145.0h0M123.1 186.8h0M118.4 197.4h0M107.2 137.8h0M112.8 144.2h0M118.0 207.5h0M121.9 228.5h0M123.3 190.9h0M110.4 154.0h0M110.5 196.0h0M125.8 213.8h0M113.9 144.4h0M134.0 90.9h0M104.9 141.1h0M114.5 188.8h0M110.2 123.5h0M123.3 218.0h0M125.5 206.2h0M130.9 201.0h0M133.6 126.5h0M126.8 170.2h0M125.6 190.5h0M125.5 195.3h0M113.0 149.6h0M127.4 192.7h0M108.1 122.1h0M128.4 216.8h0M125.7 166.0h0M106.4 159.5h0M126.3 153.4h0M124.7 177.7h0M115.2 163.3h0M132.6 111.2h0M119.0 212.2h0M111.0 163.7h0M129.0 134.1h0M130.5 118.6h0M118.5 217.9h0M125.0 187.7h0M129.8 159.2h0M114.4 168.7h0M118.6 206.5h0M114.5 180.4h0M130.5 163.2h0M128.6 131.5h0M125.5 197.6h0M130.8 214.6h0M129.9 142.9h0M116.1 195.3h0M125.0 191.0h0M126.2 194.3h0M126.0 157.7h0M126.7 200.9h0M127.8 159.0h0M122.7 202.2h0M122.4 196.2h0M115.5 205.0h0M133.9 185.3h0M133.4 108.0h0M108.0 138.6h0M122.5 222.1h0M129.7 201.4h0M128.6 217.1h0M124.9 197.7h0M116.4 166.9h0M117.8 179.7h0M122.1 227.5h0M126.9 158.0h0M136.9 166.2h0M124.3 159.7h0M130.7 117.2h0M113.9 179.8h0M128.4 135.2h0M126.5 149.5h0M124.3 184.5h0M132.2 139.4h0M128.3 127.4h0M116.7 206.7h0M118.8 198.9h0M129.8 140.9h0M124.4 199.2h0M118.1 206.5h0M128.1 197.1h0M131.7 109.6h0M126.6 162.8h0M119.3 221.0h0M111.6 124.3h0M114.5 197.8h0M128.5 191.2h0M124.5 165.9h0M133.8 91.2h0M115.1 170.8h0M127.4 193.7h0M122.7 226.2h0M126.2 206.7h0M130.0 182.9h0M117.6 178.7h0M134.2 138.4h0M118.8 229.7h0M124.9 207.4h0M124.5 188.0h0M119.1 209.6h0M132.5 149.7h0M126.7 210.3h0M122.4 226.8h0M129.5 149.9h0M114.8 176.4h0M127.2 147.4h0M125.4 215.6h0M125.6 172.8h0M128.3 127.2h0M115.3 173.5h0M129.3 125.3h0M115.3 175.9h0M118.4 227.7h0M127.1 167.1h0M128.6 134.9h0M115.9 156.9h0M115.5 177.4h0M127.6 147.4h0M112.5 211.5h0M125.5 223.1h0M131.1 187.6h0M116.8 193.8h0M129.5 206.0h0M123.9 166.2h0M123.2 191.4h0M129.4 163.7h0M134.2 135.8h0M125.0 217.7h0M127.0 149.7h0M129.7 124.3h0M133.2 132.4h0M130.8 186.3h0M135.2 107.6h0M114.6 155.5h0M128.3 193.8h0M122.1 224.5h0M132.3 158.6h0M133.5 107.0h0M113.8 133.7h0M130.0 143.0h0M117.9 207.0h0M117.8 224.7h0M128.5 129.7h0M118.1 202.7h0M133.1 117.0h0M116.1 156.0h0M126.1 202.2h0M117.2 204.2h0M123.1 186.0h0M112.0 161.7h0M118.0 221.3h0M114.5 190.8h0M108.9 145.2h0M119.3 224.9h0M125.4 205.6h0M131.5 123.8h0M116.2 173.6h0M116.3 188.5h0M112.5 157.1h0M114.8 208.3h0M116.6 201.6h0M117.5 198.3h0M125.7 214.8h0M129.3 206.2h0M125.4 215.7h0M129.0 173.4h0M132.3 136.9h0M117.9 197.3h0M132.4 138.9h0M128.0 167.5h0M127.1 138.9h0M131.5 124.6h0M125.0 213.6h0M128.8 171.2h0M122.2 217.4h0M136.0 141.3h0M129.0 118.6h0M118.2 225.2h0M126.3 204.1h0M131.6 194.9h0M125.3 154.3h0M121.7 227.9h0M125.8 182.1h0M128.3 176.0h0M132.3 149.7h0M133.3 129.9h0M124.0 201.0h0M114.3 157.9h0M133.9 103.5h0M116.7 182.4h0M135.8 203.3h0M117.4 210.4h0M134.9 133.3h0M111.8 194.4h0M125.8 147.4h0M123.2 211.7h0M117.4 191.8h0M126.7 205.8h0M123.9 177.2h0M127.7 140.8h0M125.9 162.4h0M109.8 149.3h0M133.5 118.9h0M130.9 153.5h0M122.4 211.4h0M126.6 143.4h0M130.7 154.3h0M114.6 142.3h0M112.9 179.3h0M127.8 213.7h0M116.5 198.5h0M132.1 108.8h0M116.1 220.0h0M118.0 209.9h0M129.4 178.1h0M132.6 117.7h0M123.4 210.3h0M126.5 201.3h0M116.8 208.2h0M126.9 173.4h0M124.3 209.1h0M131.7 147.8h0M109.7 210.3h0M111.6 142.8h0M125.6 221.2h0M130.0 114.7h0M133.2 194.5h0M125.0 216.2h0M122.1 212.8h0M126.7 145.6h0M109.6 133.1h0M118.8 223.8h0M129.7 182.0h0M116.6 186.7h0M129.2 130.7h0M134.4 178.8h0M125.0 176.6h0M122.7 228.4h0M125.7 221.0h0M128.3 198.7h0M130.0 118.9h0M115.8 185.6h0M126.8 212.8h0M129.0 199.0h0M124.5 213.7h0M123.8 190.8h0M116.8 204.2h0M117.5 220.3h0M128.5 220.9h0M126.5 165.3h0M128.5 142.4h0M118.2 199.2h0M110.6 181.7h0M133.3 105.0h0M130.4 148.9h0M114.9 154.2h0M123.9 209.8h0M127.2 133.2h0M128.6 166.1h0M130.5 154.1h0M106.7 182.2h0M118.3 227.3h0M134.8 139.1h0M118.6 228.4h0M125.6 202.3h0M130.2 128.5h0M131.3 109.4h0M127.5 219.6h0M125.1 152.9h0M133.2 176.0h0M125.9 202.3h0M124.6 208.9h0M130.1 130.1h0M127.9 159.1h0M131.7 106.5h0M134.3 106.7h0M136.7 149.7h0M128.9 154.3h0M110.1 145.9h0M130.9 177.7h0M123.2 225.0h0M131.3 145.0h0M129.3 127.6h0M114.2 136.7h0M109.2 183.8h0M133.5 141.3h0M116.5 174.6h0M129.6 159.1h0M127.6 224.0h0M127.9 141.7h0M129.3 143.6h0M122.3 227.5h0M114.2 161.8h0M130.5 192.9h0M118.0 219.6h0M128.0 189.3h0M125.6 176.6h0M111.8 166.8h0M116.4 160.8h0M130.9 143.9h0M130.5 130.2h0M125.7 218.5h0M116.5 185.6h0M116.5 210.5h0M131.3 132.5h0M127.6 157.2h0M132.0 141.1h0M111.9 148.6h0M131.5 106.4h0M117.0 221.0h0M118.4 190.8h0M125.1 183.5h0M126.2 161.0h0M129.3 203.5h0M109.7 137.7h0M129.0 183.7h0M135.3 195.1h0M128.5 136.5h0M127.2 143.3h0M118.8 220.4h0M125.8 156.9h0M121.8 223.8h0M114.5 172.6h0M124.8 176.3h0M126.4 163.0h0M123.6 223.0h0M125.0 158.4h0M124.2 218.1h0M122.4 199.1h0M116.7 224.5h0M122.4 225.5h0M133.5 109.7h0M131.4 126.3h0M113.9 164.1h0M125.0 180.9h0M108.0 146.5h0M127.6 187.8h0M115.2 221.7h0M124.1 227.7h0M122.0 230.1h0M115.3 182.1h0M124.7 171.6h0M127.3 214.8h0M134.7 127.2h0M118.7 228.7h0M123.0 220.8h0M133.1 161.6h0M118.3 190.1h0M118.7 215.2h0M130.3 172.1h0M119.0 229.8h0M125.5 222.6h0M137.1 164.4h0M138.1 125.3h0M108.3 148.4h0M116.1 197.5h0M130.6 170.7h0M127.6 199.9h0M131.2 145.6h0M128.6 154.3h0M128.7 123.5h0M111.1 154.8h0M106.6 133.9h0M117.5 209.5h0M132.6 161.8h0M124.5 197.7h0M130.4 143.3h0M123.2 226.0h0M122.7 196.1h0M128.5 145.8h0M114.5 177.4h0M124.9 194.0h0M118.5 196.5h0M131.5 110.5h0M109.6 161.8h0M113.4 140.8h0M130.9 124.3h0M111.8 155.6h0M113.8 140.4h0M113.8 178.6h0M126.3 194.4h0M124.6 165.7h0M105.4 133.9h0M112.2 152.5h0M117.2 192.6h0M123.5 209.7h0M132.3 107.4h0M132.7 125.1h0M132.2 199.9h0M128.2 132.8h0M117.6 196.5h0M128.7 176.6h0M112.8 179.6h0M128.9 210.9h0M134.6 207.9h0M131.2 157.5h0M118.8 215.3h0M126.5 156.2h0M128.7 155.6h0M124.1 202.2h0M131.3 181.3h0M134.0 176.8h0M126.0 192.5h0M130.9 158.1h0M124.4 165.3h0" stroke="#777" stroke-opacity="0.6" stroke-width="1.9" stroke-linecap="round" fill="none"/>
<circle cx="106.2" cy="87.9" r="0.95" fill="#999"/>
<circle cx="107" cy="89.2" r="0.95" fill="#999"/>
<circle cx="105.4" cy="91.6" r="0.95" fill="#999"/>
<circle cx="106.2" cy="94" r="0.95" fill="#999"/>
<circle cx="103" cy="97.3" r="0.95" fill="#999"/>
<circle cx="97.3" cy="101.3" r="0.95" fill="#999"/>
<circle cx="109.4" cy="100.8" r="0.95" fill="#999"/>
<circle cx="107.8" cy="104.6" r="0.95" fill="#999"/>
<circle cx="110.3" cy="108.6" r="0.95" fill="#999"/>
<circle cx="99.7" cy="112.7" r="0.95" fill="#999"/>
<circle cx="104.6" cy="111.9" r="0.95" fill="#999"/>
<circle cx="110.3" cy="112.2" r="0.95" fill="#999"/>
<circle cx="92.4" cy="123.2" r="0.95" fill="#999"/>
<circle cx="102.6" cy="131.3" r="0.95" fill="#999"/>
<circle cx="106.2" cy="132.1" r="0.95" fill="#999"/>
<circle cx="96.5" cy="133.7" r="0.95" fill="#999"/>
<circle cx="98.1" cy="137" r="0.95" fill="#999"/>
<circle cx="102.2" cy="140.5" r="0.95" fill="#999"/>
<circle cx="92.4" cy="142.7" r="0.95" fill="#999"/>
<circle cx="137" cy="70" r="0.95" fill="#999"/>
<circle cx="138.6" cy="71.3" r="0.95" fill="#999"/>
<circle cx="144.3" cy="74.6" r="0.95" fill="#999"/>
<circle cx="154" cy="75.4" r="0.95" fill="#999"/>
<circle cx="137" cy="75.4" r="0.95" fill="#999"/>
<circle cx="136.2" cy="78.6" r="0.95" fill="#999"/>
<circle cx="141" cy="81.9" r="0.95" fill="#999"/>
<circle cx="149.2" cy="83.5" r="0.95" fill="#999"/>
<circle cx="147.5" cy="84.3" r="0.95" fill="#999"/>
<circle cx="135.4" cy="86" r="0.95" fill="#999"/>
<circle cx="141.9" cy="85.6" r="0.95" fill="#999"/>
<circle cx="145.1" cy="86.7" r="0.95" fill="#999"/>
<circle cx="138.6" cy="90" r="0.95" fill="#999"/>
<circle cx="153.2" cy="89.5" r="0.95" fill="#999"/>
<circle cx="141.9" cy="93.2" r="0.95" fill="#999"/>
<circle cx="133.8" cy="94.8" r="0.95" fill="#999"/>
<circle cx="137" cy="95.7" r="0.95" fill="#999"/>
<circle cx="143.5" cy="96" r="0.95" fill="#999"/>
<circle cx="133" cy="97.6" r="0.95" fill="#999"/>
<circle cx="136.2" cy="98.9" r="0.95" fill="#999"/>
<circle cx="151.6" cy="102.1" r="0.95" fill="#999"/>
<circle cx="133.8" cy="103.4" r="0.95" fill="#999"/>
<circle cx="138.6" cy="108.3" r="0.95" fill="#999"/>
<circle cx="141.9" cy="109" r="0.95" fill="#999"/>
<circle cx="137" cy="111" r="0.95" fill="#999"/>
<circle cx="134.6" cy="113.5" r="0.95" fill="#999"/>
<circle cx="146.7" cy="130.5" r="0.95" fill="#999"/>
<circle cx="158" cy="130.5" r="0.95" fill="#999"/>
<circle cx="137.8" cy="131.3" r="0.95" fill="#999"/>
<circle cx="135.4" cy="124.8" r="0.95" fill="#999"/>
<circle cx="137" cy="134.6" r="0.95" fill="#999"/>
<circle cx="96" cy="151" r="0.95" fill="#999"/>
<circle cx="103" cy="159" r="0.95" fill="#999"/>
<circle cx="97" cy="170" r="0.95" fill="#999"/>
<circle cx="104" cy="176" r="0.95" fill="#999"/>
<circle cx="96" cy="183" r="0.95" fill="#999"/>
<circle cx="102" cy="190" r="0.95" fill="#999"/>
<circle cx="99" cy="195" r="0.95" fill="#999"/>
<circle cx="104" cy="203" r="0.95" fill="#999"/>
<circle cx="142" cy="172" r="0.95" fill="#999"/>
<circle cx="146" cy="188" r="0.95" fill="#999"/>
<circle cx="139" cy="200" r="0.95" fill="#999"/>
<circle cx="143" cy="210" r="0.95" fill="#999"/>
<circle cx="141" cy="152" r="0.95" fill="#999"/>
<circle cx="139" cy="185" r="0.95" fill="#999"/>
<circle cx="100" cy="210" r="0.95" fill="#999"/>
<circle cx="106" cy="215" r="0.95" fill="#999"/>
<circle cx="160.2" cy="136.7" r="0.95" fill="#999"/>
<circle cx="158.1" cy="161.6" r="0.95" fill="#999"/>
<circle cx="174.3" cy="210.6" r="0.95" fill="#999"/>
<circle cx="146.2" cy="200.4" r="0.95" fill="#999"/>
<circle cx="141.9" cy="205.8" r="0.95" fill="#999"/>
<circle cx="146.2" cy="208" r="0.95" fill="#999"/>
<circle cx="137.6" cy="152.9" r="0.95" fill="#999"/>
<circle cx="139.7" cy="158.3" r="0.95" fill="#999"/>
<circle cx="140.8" cy="173.4" r="0.95" fill="#999"/>
<circle cx="114.1" cy="152.3" r="1.3" fill="#d4391c"/>
<circle cx="114.9" cy="151.5" r="1.3" fill="#d4391c"/>
<circle cx="109.5" cy="155.4" r="1.3" fill="#d4391c"/>
<circle cx="113.4" cy="154.6" r="1.3" fill="#d4391c"/>
<circle cx="108.8" cy="161.5" r="1.3" fill="#d4391c"/>
<circle cx="114.1" cy="160.7" r="1.3" fill="#d4391c"/>
<circle cx="114.9" cy="159.2" r="1.3" fill="#d4391c"/>
<circle cx="110.3" cy="166.1" r="1.3" fill="#d4391c"/>
<circle cx="116.4" cy="165.3" r="1.3" fill="#d4391c"/>
<circle cx="114.9" cy="168.4" r="1.3" fill="#d4391c"/>
<circle cx="115.7" cy="171.4" r="1.3" fill="#d4391c"/>
<circle cx="115.7" cy="173.7" r="1.3" fill="#d4391c"/>
<circle cx="110.3" cy="176.8" r="1.3" fill="#d4391c"/>
<circle cx="116.4" cy="178.3" r="1.3" fill="#d4391c"/>
<circle cx="116.4" cy="182.2" r="1.3" fill="#d4391c"/>
<circle cx="117.2" cy="185.2" r="1.3" fill="#d4391c"/>
<circle cx="117.2" cy="188.3" r="1.3" fill="#d4391c"/>
<circle cx="114.1" cy="190.1" r="1.3" fill="#d4391c"/>
<circle cx="116.4" cy="191.3" r="1.3" fill="#d4391c"/>
<circle cx="117.2" cy="193.6" r="1.3" fill="#d4391c"/>
<circle cx="114.1" cy="198.2" r="1.3" fill="#d4391c"/>
<circle cx="115.7" cy="200.5" r="1.3" fill="#d4391c"/>
<circle cx="118.0" cy="202.1" r="1.3" fill="#d4391c"/>
<circle cx="116.4" cy="203.6" r="1.3" fill="#d4391c"/>
<circle cx="118.0" cy="205.1" r="1.3" fill="#d4391c"/>
<circle cx="116.4" cy="207.4" r="1.3" fill="#d4391c"/>
<circle cx="118.7" cy="209.0" r="1.3" fill="#d4391c"/>
<circle cx="118.7" cy="211.3" r="1.3" fill="#d4391c"/>
<circle cx="118.0" cy="214.3" r="1.3" fill="#d4391c"/>
<circle cx="120.3" cy="216.6" r="1.3" fill="#d4391c"/>
<circle cx="118.7" cy="218.1" r="1.3" fill="#d4391c"/>
<circle cx="121.8" cy="218.1" r="1.3" fill="#d4391c"/>
<circle cx="120.3" cy="220.4" r="1.3" fill="#d4391c"/>
<circle cx="119.5" cy="223.5" r="1.3" fill="#d4391c"/>
<circle cx="120.3" cy="226.6" r="1.3" fill="#d4391c"/>
<circle cx="120.3" cy="228.9" r="1.3" fill="#d4391c"/>
<circle cx="124.1" cy="174.5" r="1.3" fill="#d4391c"/>
<circle cx="126.4" cy="177.6" r="1.3" fill="#d4391c"/>
<circle cx="122.6" cy="204.4" r="1.3" fill="#d4391c"/>
<circle cx="122.6" cy="209.0" r="1.3" fill="#d4391c"/>
<circle cx="113.5" cy="134.6" r="1.3" fill="#d4391c"/>
<circle cx="114.0" cy="137.5" r="1.3" fill="#d4391c"/>
<circle cx="110.3" cy="141.0" r="1.3" fill="#d4391c"/>
<circle cx="112.7" cy="141.8" r="1.3" fill="#d4391c"/>
<circle cx="114.3" cy="142.7" r="1.3" fill="#d4391c"/>
<circle cx="113.5" cy="145.9" r="1.3" fill="#d4391c"/>
<circle cx="114.3" cy="148.3" r="1.3" fill="#d4391c"/>
<circle cx="115.0" cy="162.5" r="1.3" fill="#d4391c"/>
</g>
<line x1="48.6" y1="28.5" x2="48.6" y2="240.8" stroke="#333" stroke-width="1.1"/>
<line x1="48.0" y1="240.2" x2="237.5" y2="240.2" stroke="#333" stroke-width="1.2"/>
<line x1="60.8" y1="44.2" x2="83.8" y2="48.7" stroke="#aaa" stroke-width="0.6"/>
<circle cx="83.8" cy="48.7" r="0.9" fill="#999"/>
<line x1="78.5" y1="52" x2="99.2" y2="53.3" stroke="#aaa" stroke-width="0.6"/>
<circle cx="99.2" cy="53.3" r="0.9" fill="#999"/>
<line x1="82.7" y1="58.3" x2="101.2" y2="62" stroke="#aaa" stroke-width="0.6"/>
<circle cx="101.2" cy="62" r="0.9" fill="#999"/>
<line x1="82.7" y1="58.8" x2="99" y2="62.9" stroke="#aaa" stroke-width="0.6"/>
<circle cx="99" cy="62.9" r="0.9" fill="#999"/>
<line x1="90.4" y1="65" x2="101.2" y2="62" stroke="#aaa" stroke-width="0.6"/>
<circle cx="101.2" cy="62" r="0.9" fill="#999"/>
<line x1="62.7" y1="68.8" x2="66" y2="63.5" stroke="#aaa" stroke-width="0.6"/>
<circle cx="66" cy="63.5" r="0.9" fill="#999"/>
<line x1="62.5" y1="115.5" x2="75" y2="115.5" stroke="#aaa" stroke-width="0.6"/>
<circle cx="75" cy="115.5" r="0.9" fill="#999"/>
<line x1="88" y1="216.5" x2="112.5" y2="216.5" stroke="#aaa" stroke-width="0.6"/>
<circle cx="112.5" cy="216.5" r="0.9" fill="#999"/>
<line x1="177" y1="31.5" x2="145" y2="37.5" stroke="#aaa" stroke-width="0.6"/>
<circle cx="145" cy="37.5" r="0.9" fill="#999"/>
<line x1="163" y1="39" x2="145" y2="37.5" stroke="#aaa" stroke-width="0.6"/>
<circle cx="145" cy="37.5" r="0.9" fill="#999"/>
<line x1="181" y1="46" x2="146" y2="43" stroke="#aaa" stroke-width="0.6"/>
<circle cx="146" cy="43" r="0.9" fill="#999"/>
<line x1="165" y1="52.3" x2="141" y2="53" stroke="#aaa" stroke-width="0.6"/>
<circle cx="141" cy="53" r="0.9" fill="#999"/>
<line x1="179.5" y1="55.5" x2="143" y2="56.8" stroke="#aaa" stroke-width="0.6"/>
<circle cx="143" cy="56.8" r="0.9" fill="#999"/>
<line x1="164" y1="62.5" x2="147.5" y2="63.8" stroke="#aaa" stroke-width="0.6"/>
<circle cx="147.5" cy="63.8" r="0.9" fill="#999"/>
<line x1="183.5" y1="67" x2="142.5" y2="63" stroke="#aaa" stroke-width="0.6"/>
<circle cx="142.5" cy="63" r="0.9" fill="#999"/>
<line x1="162.5" y1="70" x2="138" y2="65" stroke="#aaa" stroke-width="0.6"/>
<circle cx="138" cy="65" r="0.9" fill="#999"/>
<rect x="49.6" y="40.8" width="11.199999999999996" height="6.500000000000007" fill="#fff" stroke="#9a9a9a" stroke-width="0.7" rx="0.5"/>
<text x="55.2" y="45.800000000000004" font-size="5.9" text-anchor="middle" textLength="8.5" lengthAdjust="spacingAndGlyphs" fill="#111" stroke="#111" stroke-width="0.106">TES</text>
<rect x="57.7" y="49" width="20.799999999999997" height="5.800000000000004" fill="#fff" stroke="#9a9a9a" stroke-width="0.7" rx="0.5"/>
<text x="68.1" y="53.300000000000004" font-size="5.9" text-anchor="middle" textLength="17.5" lengthAdjust="spacingAndGlyphs" fill="#111" stroke="#111" stroke-width="0.106">HMGN2</text>
<rect x="49.6" y="56.2" width="14.999999999999993" height="5.600000000000001" fill="#fff" stroke="#9a9a9a" stroke-width="0.7" rx="0.5"/>
<text x="57.099999999999994" y="60.300000000000004" font-size="5.9" text-anchor="middle" textLength="12" lengthAdjust="spacingAndGlyphs" fill="#111" stroke="#111" stroke-width="0.106">CDK3</text>
<rect x="66.5" y="56.2" width="16.200000000000003" height="5.600000000000001" fill="#fff" stroke="#9a9a9a" stroke-width="0.7" rx="0.5"/>
<text x="74.6" y="60.300000000000004" font-size="5.9" text-anchor="middle" textLength="13" lengthAdjust="spacingAndGlyphs" fill="#111" stroke="#111" stroke-width="0.106">DBN1</text>
<rect x="65.6" y="63.5" width="24.80000000000001" height="5.8999999999999915" fill="#fff" stroke="#9a9a9a" stroke-width="0.7" rx="0.5"/>
<text x="78.0" y="67.89999999999999" font-size="5.9" text-anchor="middle" textLength="21.5" lengthAdjust="spacingAndGlyphs" fill="#111" stroke="#111" stroke-width="0.106">MAGED2</text>
<rect x="49.2" y="70.2" width="22.5" height="5.799999999999997" fill="#fff" stroke="#9a9a9a" stroke-width="0.7" rx="0.5"/>
<text x="60.45" y="74.5" font-size="5.9" text-anchor="middle" textLength="19.5" lengthAdjust="spacingAndGlyphs" fill="#111" stroke="#111" stroke-width="0.106">CDKN2A</text>
<rect x="49.5" y="112.5" width="13.0" height="6.799999999999997" fill="#fff" stroke="#9a9a9a" stroke-width="0.7" rx="0.5"/>
<text x="56.0" y="117.8" font-size="5.9" text-anchor="middle" textLength="10" lengthAdjust="spacingAndGlyphs" fill="#111" stroke="#111" stroke-width="0.106">BMX</text>
<rect x="76" y="213.5" width="12" height="6.599999999999994" fill="#fff" stroke="#9a9a9a" stroke-width="0.7" rx="0.5"/>
<text x="82.0" y="218.6" font-size="5.9" text-anchor="middle" textLength="9" lengthAdjust="spacingAndGlyphs" fill="#111" stroke="#111" stroke-width="0.106">FBL</text>
<rect x="177" y="29" width="22.5" height="6.399999999999999" fill="#fff" stroke="#9a9a9a" stroke-width="0.7" rx="0.5"/>
<text x="188.25" y="33.9" font-size="5.9" text-anchor="middle" textLength="19.5" lengthAdjust="spacingAndGlyphs" fill="#111" stroke="#111" stroke-width="0.106">DPYSL2</text>
<rect x="163" y="36" width="19.5" height="6.600000000000001" fill="#fff" stroke="#9a9a9a" stroke-width="0.7" rx="0.5"/>
<text x="172.75" y="41.1" font-size="5.9" text-anchor="middle" textLength="16.5" lengthAdjust="spacingAndGlyphs" fill="#111" stroke="#111" stroke-width="0.106">PSMB8</text>
<rect x="181" y="43" width="15" height="6.600000000000001" fill="#fff" stroke="#9a9a9a" stroke-width="0.7" rx="0.5"/>
<text x="188.5" y="48.1" font-size="5.9" text-anchor="middle" textLength="12" lengthAdjust="spacingAndGlyphs" fill="#111" stroke="#111" stroke-width="0.106">LCP1</text>
<rect x="165" y="49.5" width="14" height="6.100000000000001" fill="#fff" stroke="#9a9a9a" stroke-width="0.7" rx="0.5"/>
<text x="172.0" y="54.1" font-size="5.9" text-anchor="middle" textLength="11" lengthAdjust="spacingAndGlyphs" fill="#111" stroke="#111" stroke-width="0.106">B2M</text>
<rect x="179.5" y="52.7" width="19.5" height="6.600000000000001" fill="#fff" stroke="#9a9a9a" stroke-width="0.7" rx="0.5"/>
<text x="189.25" y="57.800000000000004" font-size="5.9" text-anchor="middle" textLength="16.5" lengthAdjust="spacingAndGlyphs" fill="#111" stroke="#111" stroke-width="0.106">ANXA2</text>
<rect x="164" y="59.5" width="18.5" height="6.599999999999994" fill="#fff" stroke="#9a9a9a" stroke-width="0.7" rx="0.5"/>
<text x="173.25" y="64.6" font-size="5.9" text-anchor="middle" textLength="16" lengthAdjust="spacingAndGlyphs" fill="#111" stroke="#111" stroke-width="0.106">PLOD3</text>
<rect x="183.5" y="64" width="13.5" height="6.599999999999994" fill="#fff" stroke="#9a9a9a" stroke-width="0.7" rx="0.5"/>
<text x="190.25" y="69.1" font-size="5.9" text-anchor="middle" textLength="10" lengthAdjust="spacingAndGlyphs" fill="#111" stroke="#111" stroke-width="0.106">HLA</text>
<rect x="162.5" y="67.5" width="13.0" height="6.099999999999994" fill="#fff" stroke="#9a9a9a" stroke-width="0.7" rx="0.5"/>
<text x="169.0" y="72.1" font-size="5.9" text-anchor="middle" textLength="10" lengthAdjust="spacingAndGlyphs" fill="#111" stroke="#111" stroke-width="0.106">OPD</text>
<rect x="170.8" y="96.7" width="3.3" height="3.3" fill="#d2391f"/>
<text x="177" y="101.3" font-size="8.2" textLength="65" lengthAdjust="spacingAndGlyphs" fill="#222" stroke="#222" stroke-width="0.148">Ribosomal proteins</text>
<text x="306.9" y="27.4" font-size="10.3" textLength="156" lengthAdjust="spacingAndGlyphs" fill="#1a1a1a" stroke="#1a1a1a" stroke-width="0.185">Enrichment plot: KEGG_RIBOSOME</text>
<line x1="306.7" y1="38.6" x2="494.6" y2="38.6" stroke="#555" stroke-width="0.8"/>
<polyline points="306.75,38.60 331.20,53.50 331.30,54.36 331.55,52.76 343.20,60.20 343.30,61.06 343.55,59.46 359.50,69.60 359.60,70.44 359.85,68.84 362.50,71.70 362.75,70.10 371.50,77.10 371.75,75.50 372.70,77.77 372.95,76.17 375.40,79.28 375.65,77.68 379.20,81.40 379.45,79.80 395.00,89.80 395.20,90.72 395.45,89.12 397.10,91.82 397.35,90.22 404.80,96.28 405.05,94.68 405.00,95.60 406.50,97.24 406.75,95.64 409.20,98.75 409.45,97.15 410.00,98.40 422.50,109.03 423.43,108.31 424.35,108.84 425.27,108.42 426.20,108.08 427.07,108.26 427.93,108.35 428.80,109.27 429.62,109.62 430.43,109.14 431.25,109.37 432.07,109.50 432.88,109.27 433.70,108.99 434.65,110.09 435.60,110.14 436.55,111.22 437.50,111.53 438.33,110.43 439.17,109.93 440.00,108.42 440.93,108.46 441.85,107.23 442.77,106.90 443.70,106.92 444.65,106.68 445.60,107.58 446.55,107.07 447.50,107.21 448.33,106.74 449.17,105.78 450.00,105.40 450.83,104.65 451.67,104.01 452.50,103.57 453.33,103.25 454.17,102.84 455.00,102.79 455.83,102.14 456.67,102.00 457.50,101.12 458.33,101.48 459.17,101.59 460.00,101.20 460.83,100.60 461.67,101.33 462.50,100.89 463.50,98.43 464.50,94.95 465.50,93.94 466.50,92.13 467.50,90.61 468.50,88.62 469.50,86.16 470.35,79.79 471.20,74.05 472.50,66.87 473.33,65.03 474.17,62.53 475.00,60.24 476.00,57.72 477.00,55.66 477.85,53.62 478.70,52.54 479.60,50.63 480.50,47.93 481.50,44.01 482.50,36.30 483.70,37.00 486.20,38.70" fill="none" stroke="#63a830" stroke-width="1.3" stroke-linejoin="round"/>
<rect x="331" y="116.1" width="1" height="27.5" fill="#000" shape-rendering="crispEdges"/>
<rect x="343" y="116.1" width="1" height="27.5" fill="#000" shape-rendering="crispEdges"/>
<rect x="359" y="116.1" width="1" height="27.5" fill="#000" shape-rendering="crispEdges"/>
<rect x="362" y="116.1" width="1" height="27.5" fill="#000" shape-rendering="crispEdges"/>
<rect x="371" y="116.1" width="1" height="27.5" fill="#000" shape-rendering="crispEdges"/>
<rect x="372" y="116.1" width="1" height="27.5" fill="#000" shape-rendering="crispEdges"/>
<rect x="375" y="116.1" width="1" height="27.5" fill="#000" shape-rendering="crispEdges"/>
<rect x="379" y="116.1" width="1" height="27.5" fill="#000" shape-rendering="crispEdges"/>
<rect x="395" y="116.1" width="1" height="27.5" fill="#000" shape-rendering="crispEdges"/>
<rect x="397" y="116.1" width="1" height="27.5" fill="#000" shape-rendering="crispEdges"/>
<rect x="405" y="116.1" width="1" height="27.5" fill="#000" shape-rendering="crispEdges"/>
<rect x="406" y="116.1" width="1" height="27.5" fill="#000" shape-rendering="crispEdges"/>
<rect x="409" y="116.1" width="1" height="27.5" fill="#000" shape-rendering="crispEdges"/>
<rect x="422" y="116.1" width="4" height="27.5" fill="#000" shape-rendering="crispEdges"/>
<rect x="428" y="116.1" width="1" height="27.5" fill="#000" shape-rendering="crispEdges"/>
<rect x="432" y="116.1" width="1" height="27.5" fill="#000" shape-rendering="crispEdges"/>
<rect x="436" y="116.1" width="2" height="27.5" fill="#000" shape-rendering="crispEdges"/>
<rect x="439" y="116.1" width="2" height="27.5" fill="#000" shape-rendering="crispEdges"/>
<rect x="442" y="116.1" width="2" height="27.5" fill="#000" shape-rendering="crispEdges"/>
<rect x="445" y="116.1" width="1" height="27.5" fill="#000" shape-rendering="crispEdges"/>
<line x1="448.05" y1="116.1" x2="448.05" y2="143.6" stroke="#000" stroke-width="1.0"/>
<line x1="449.55" y1="116.1" x2="449.55" y2="143.6" stroke="#000" stroke-width="1.0"/>
<line x1="451.35" y1="116.1" x2="451.35" y2="143.6" stroke="#000" stroke-width="1.0"/>
<line x1="454.15" y1="116.1" x2="454.15" y2="143.6" stroke="#000" stroke-width="1.0"/>
<line x1="457.65" y1="116.1" x2="457.65" y2="143.6" stroke="#000" stroke-width="1.0"/>
<line x1="459.15" y1="116.1" x2="459.15" y2="143.6" stroke="#000" stroke-width="1.0"/>
<line x1="461.85" y1="116.1" x2="461.85" y2="143.6" stroke="#000" stroke-width="1.0"/>
<rect x="465" y="116.1" width="1" height="27.5" fill="#000" shape-rendering="crispEdges"/>
<rect x="468" y="116.1" width="9" height="27.5" fill="#000" shape-rendering="crispEdges"/>
<rect x="478" y="116.1" width="1" height="27.5" fill="#000" shape-rendering="crispEdges"/>
<rect x="480" y="116.1" width="3" height="27.5" fill="#000" shape-rendering="crispEdges"/>
<rect x="306.7" y="144.2" width="30.88960000000003" height="6.200000000000017" fill="#d44a4c"/>
<rect x="337.5396" y="144.2" width="12.780300000000011" height="6.200000000000017" fill="#d96a78"/>
<rect x="350.2699" y="144.2" width="17.262800000000027" height="6.200000000000017" fill="#e0847e"/>
<rect x="367.4827" y="144.2" width="25.3313" height="6.200000000000017" fill="#f2bfe0"/>
<rect x="392.764" y="144.2" width="20.310900000000004" height="6.200000000000017" fill="#d8d8f2"/>
<rect x="413.0249" y="144.2" width="20.848799999999983" height="6.200000000000017" fill="#bdb6e6"/>
<rect x="433.8237" y="144.2" width="16.724900000000048" height="6.200000000000017" fill="#8a7ec8"/>
<rect x="450.4986" y="144.2" width="30.88960000000003" height="6.200000000000017" fill="#5a44a6"/>
<rect x="481.33820000000003" y="144.2" width="4.7117999999999824" height="6.200000000000017" fill="#3a2a8c"/>
<rect x="306.7" y="32.3" width="187.90000000000003" height="118.4" fill="none" stroke="#1a1a1a" stroke-width="1"/>
<line x1="306.7" y1="115.6" x2="494.6" y2="115.6" stroke="#1a1a1a" stroke-width="1"/>
<line x1="306.7" y1="143.79999999999998" x2="494.6" y2="143.79999999999998" stroke="#1a1a1a" stroke-width="0.7"/>
<line x1="303.3" y1="38.6" x2="306.7" y2="38.6" stroke="#333" stroke-width="1.1"/>
<text x="301.2" y="41.1" font-size="8.5" text-anchor="end" fill="#222" stroke="#222" stroke-width="0.153">0.0</text>
<line x1="303.3" y1="50.7" x2="306.7" y2="50.7" stroke="#333" stroke-width="1.1"/>
<line x1="303.3" y1="62.7" x2="306.7" y2="62.7" stroke="#333" stroke-width="1.1"/>
<text x="301.2" y="65.2" font-size="8.5" text-anchor="end" fill="#222" stroke="#222" stroke-width="0.153">-0.2</text>
<line x1="303.3" y1="74.8" x2="306.7" y2="74.8" stroke="#333" stroke-width="1.1"/>
<line x1="303.3" y1="86.9" x2="306.7" y2="86.9" stroke="#333" stroke-width="1.1"/>
<text x="301.2" y="89.4" font-size="8.5" text-anchor="end" fill="#222" stroke="#222" stroke-width="0.153">-0.4</text>
<line x1="303.3" y1="99.0" x2="306.7" y2="99.0" stroke="#333" stroke-width="1.1"/>
<line x1="303.3" y1="111.1" x2="306.7" y2="111.1" stroke="#333" stroke-width="1.1"/>
<text x="301.2" y="113.6" font-size="8.5" text-anchor="end" fill="#222" stroke="#222" stroke-width="0.153">-0.6</text>
<text x="0" y="0" font-size="8.9" text-anchor="middle" textLength="70.6" lengthAdjust="spacingAndGlyphs" fill="#222" stroke="#222" stroke-width="0.16" transform="translate(280.9,75.3) rotate(-90)">Enrichment score (ES)</text>
<polyline points="306.70,177.90 306.70,165.30 306.78,165.77 306.86,166.20 306.94,166.58 307.02,166.92 307.10,167.23 307.18,167.51 307.26,167.77 307.34,168.00 307.42,168.22 307.50,168.42 307.58,168.61 307.66,168.78 307.75,168.94 307.83,169.09 307.91,169.24 307.99,169.37 308.07,169.50 308.15,169.62 308.23,169.74 308.31,169.85 308.39,169.95 308.47,170.06 308.55,170.15 308.63,170.25 308.71,170.34 308.79,170.42 308.87,170.51 308.95,170.59 309.03,170.67 309.11,170.75 310.32,171.68 311.52,172.35 312.73,172.86 313.94,173.27 315.14,173.61 316.35,173.89 317.55,174.13 318.76,174.34 319.97,174.52 321.17,174.69 322.38,174.83 323.58,174.96 324.79,175.08 326.00,175.19 327.20,175.29 328.41,175.39 329.61,175.47 330.82,175.55 332.03,175.63 333.23,175.70 334.44,175.77 335.64,175.83 336.85,175.89 338.06,175.94 339.26,176.00 340.47,176.05 341.67,176.10 342.88,176.14 344.09,176.19 345.29,176.23 346.50,176.27 347.70,176.31 348.91,176.35 350.12,176.39 351.32,176.43 352.53,176.46 353.73,176.49 354.94,176.53 356.15,176.56 357.35,176.59 358.56,176.62 359.76,176.65 360.97,176.68 362.18,176.71 363.38,176.74 364.59,176.77 365.79,176.80 367.00,176.82 368.21,176.85 369.41,176.88 370.62,176.91 371.82,176.93 373.03,176.96 374.24,176.99 375.44,177.02 376.65,177.04 377.85,177.07 379.06,177.10 380.27,177.13 381.47,177.16 382.68,177.19 383.88,177.23 385.09,177.26 386.30,177.30 387.50,177.34 388.71,177.39 389.91,177.45 391.12,177.52 392.33,177.67 393.53,178.24 394.74,178.24 395.94,178.24 397.15,178.24 398.36,178.24 399.56,178.24 400.77,178.24 401.97,178.24 403.18,178.24 404.39,178.24 405.59,178.24 406.80,178.24 408.00,178.25 409.21,178.25 410.42,178.25 411.62,178.26 412.83,178.26 414.03,178.26 415.24,178.27 416.45,178.27 417.65,178.28 418.86,178.29 420.06,178.30 421.27,178.30 422.48,178.31 423.68,178.32 424.89,178.33 426.09,178.34 427.30,178.36 428.51,178.37 429.71,178.38 430.92,178.40 432.12,178.41 433.33,178.43 434.54,178.45 435.74,178.47 436.95,178.49 438.15,178.51 439.36,178.53 440.57,178.55 441.77,178.58 442.98,178.60 444.18,178.63 445.39,178.66 446.60,178.69 447.80,178.72 449.01,178.75 450.21,178.79 451.42,178.82 452.63,178.86 453.83,178.90 455.04,178.94 456.24,178.98 457.45,179.02 458.66,179.06 459.86,179.11 461.07,179.16 462.27,179.21 463.48,179.26 464.69,179.31 465.89,179.37 467.10,179.42 468.30,179.48 469.51,179.54 470.72,179.61 471.92,179.67 473.13,179.74 474.33,179.81 475.54,179.89 476.75,179.98 477.95,180.09 479.16,180.23 479.56,180.29 479.76,180.32 479.96,180.36 480.16,180.39 480.36,180.43 480.56,180.48 480.77,180.53 480.97,180.58 481.17,180.63 481.37,180.69 481.57,180.76 481.77,180.83 481.97,180.91 482.17,181.00 482.37,181.09 482.57,181.20 482.78,181.32 482.98,181.45 483.18,181.59 483.38,181.74 483.58,181.92 483.78,182.11 483.98,182.33 484.18,182.56 484.38,182.83 484.58,183.12 484.79,183.45 484.99,183.81 485.19,189.66 485.27,203.52 486.15,203.52 486.15,177.90" fill="#c8c8cc" stroke="none" stroke-width="1" stroke="#c0c0c4" stroke-width="0.5"/>
<line x1="306.7" y1="150.70000000000002" x2="306.7" y2="207.0" stroke="#1a1a1a" stroke-width="1"/>
<line x1="306.2" y1="206.4" x2="494.5" y2="206.4" stroke="#1a1a1a" stroke-width="1.1"/>
<line x1="303.7" y1="152.7" x2="306.7" y2="152.7" stroke="#222" stroke-width="0.9"/>
<text x="301.2" y="155.6" font-size="8.5" text-anchor="end" fill="#222" stroke="#222" stroke-width="0.153">3</text>
<line x1="303.7" y1="161.1" x2="306.7" y2="161.1" stroke="#222" stroke-width="0.9"/>
<text x="301.2" y="164.0" font-size="8.5" text-anchor="end" fill="#222" stroke="#222" stroke-width="0.153">2</text>
<line x1="303.7" y1="169.5" x2="306.7" y2="169.5" stroke="#222" stroke-width="0.9"/>
<text x="301.2" y="172.4" font-size="8.5" text-anchor="end" fill="#222" stroke="#222" stroke-width="0.153">1</text>
<line x1="303.7" y1="177.9" x2="306.7" y2="177.9" stroke="#222" stroke-width="0.9"/>
<text x="301.2" y="180.8" font-size="8.5" text-anchor="end" fill="#222" stroke="#222" stroke-width="0.153">0</text>
<line x1="303.7" y1="186.3" x2="306.7" y2="186.3" stroke="#222" stroke-width="0.9"/>
<text x="301.2" y="189.20000000000002" font-size="8.5" text-anchor="end" fill="#222" stroke="#222" stroke-width="0.153">-1</text>
<line x1="303.7" y1="194.70000000000002" x2="306.7" y2="194.70000000000002" stroke="#222" stroke-width="0.9"/>
<text x="301.2" y="197.60000000000002" font-size="8.5" text-anchor="end" fill="#222" stroke="#222" stroke-width="0.153">-2</text>
<line x1="303.7" y1="203.10000000000002" x2="306.7" y2="203.10000000000002" stroke="#222" stroke-width="0.9"/>
<text x="301.2" y="206.00000000000003" font-size="8.5" text-anchor="end" fill="#222" stroke="#222" stroke-width="0.153">-3</text>
<line x1="306.7" y1="206.4" x2="306.7" y2="209.0" stroke="#222" stroke-width="0.9"/>
<text x="306.7" y="219.5" font-size="8.5" text-anchor="middle" fill="#222" stroke="#222" stroke-width="0.153">0</text>
<line x1="326.8" y1="206.4" x2="326.8" y2="209.0" stroke="#222" stroke-width="0.9"/>
<line x1="346.9" y1="206.4" x2="346.9" y2="209.0" stroke="#222" stroke-width="0.9"/>
<text x="346.9" y="219.5" font-size="8.5" text-anchor="middle" textLength="19.5" lengthAdjust="spacingAndGlyphs" fill="#222" stroke="#222" stroke-width="0.153">1,000</text>
<line x1="367.0" y1="206.4" x2="367.0" y2="209.0" stroke="#222" stroke-width="0.9"/>
<line x1="387.1" y1="206.4" x2="387.1" y2="209.0" stroke="#222" stroke-width="0.9"/>
<text x="387.1" y="219.5" font-size="8.5" text-anchor="middle" textLength="19.5" lengthAdjust="spacingAndGlyphs" fill="#222" stroke="#222" stroke-width="0.153">2,000</text>
<line x1="407.2" y1="206.4" x2="407.2" y2="209.0" stroke="#222" stroke-width="0.9"/>
<line x1="427.29999999999995" y1="206.4" x2="427.29999999999995" y2="209.0" stroke="#222" stroke-width="0.9"/>
<text x="427.29999999999995" y="219.5" font-size="8.5" text-anchor="middle" textLength="19.5" lengthAdjust="spacingAndGlyphs" fill="#222" stroke="#222" stroke-width="0.153">3,000</text>
<line x1="447.4" y1="206.4" x2="447.4" y2="209.0" stroke="#222" stroke-width="0.9"/>
<line x1="467.5" y1="206.4" x2="467.5" y2="209.0" stroke="#222" stroke-width="0.9"/>
<text x="467.5" y="219.5" font-size="8.5" text-anchor="middle" textLength="19.5" lengthAdjust="spacingAndGlyphs" fill="#222" stroke="#222" stroke-width="0.153">4,000</text>
<line x1="487.6" y1="206.4" x2="487.6" y2="209.0" stroke="#222" stroke-width="0.9"/>
<rect x="374.3074" y="175.70000000000002" width="36.2" height="4.2" fill="#fff"/>
<text x="374.3074" y="179.70000000000002" font-size="5.4" textLength="35.6" lengthAdjust="spacingAndGlyphs" fill="#222" stroke="#222" stroke-width="0.097">Zero cross at 2137</text>
<line x1="392.6074" y1="151.4" x2="392.6074" y2="206.4" stroke="#222" stroke-width="0.8" stroke-dasharray="3,2"/>
<text x="308.5" y="157.3" font-size="4.6" textLength="59.5" lengthAdjust="spacingAndGlyphs" fill="#c02858" stroke="#c02858" stroke-width="0.083">'na_pos' (positively correlated)</text>
<text x="0" y="0" font-size="8.9" text-anchor="middle" textLength="60" lengthAdjust="spacingAndGlyphs" fill="#222" stroke="#222" stroke-width="0.16" transform="translate(278.3,178.2) rotate(-90)">Ranked list metric</text>
<text x="0" y="0" font-size="8.9" text-anchor="middle" textLength="43.6" lengthAdjust="spacingAndGlyphs" fill="#222" stroke="#222" stroke-width="0.16" transform="translate(288.0,178.2) rotate(-90)">(PreRanked)</text>
<text x="360.75" y="232.6" font-size="8.9" textLength="81" lengthAdjust="spacingAndGlyphs" fill="#222" stroke="#222" stroke-width="0.16">Rank in ordered dataset</text>
<line x1="303.7" y1="248.2" x2="310.2" y2="248.2" stroke="#63a830" stroke-width="1.3"/>
<text x="313" y="250.5" font-size="8" textLength="61.5" lengthAdjust="spacingAndGlyphs" fill="#222" stroke="#222" stroke-width="0.144">Enrichment profile</text>
<line x1="384.5" y1="248.2" x2="389.8" y2="248.2" stroke="#c8c8cc" stroke-width="1.3"/>
<text x="392.5" y="250.5" font-size="8" textLength="74.0" lengthAdjust="spacingAndGlyphs" fill="#222" stroke="#222" stroke-width="0.144">Ranking metric scores</text>
<line x1="475.2" y1="248.2" x2="480.8" y2="248.2" stroke="#333" stroke-width="1.3"/>
<text x="484.4" y="250.5" font-size="8" textLength="14.200000000000045" lengthAdjust="spacingAndGlyphs" fill="#222" stroke="#222" stroke-width="0.144">Hits</text>
<text x="312.5" y="107.6" font-size="8.1" textLength="92.5" lengthAdjust="spacingAndGlyphs" fill="#1a1a1a" stroke="#1a1a1a" stroke-width="0.146">NES=-2,3; FDR q-value=0.0</text>
<text x="45" y="308.4" font-size="10.3" textLength="176.2" lengthAdjust="spacingAndGlyphs" fill="#1a1a1a" stroke="#1a1a1a" stroke-width="0.185">Enrichment plot: IRES_ACTIVITY_GENES</text>
<line x1="46.6" y1="338.4" x2="219.6" y2="338.4" stroke="#555" stroke-width="0.8"/>
<polyline points="46.60,329.00 47.80,327.80 48.80,329.60 49.50,328.20 50.90,330.40 51.80,330.94 52.70,332.10 54.00,333.90 54.70,332.50 55.80,325.90 57.00,327.30 57.80,327.00 58.70,327.80 59.90,326.80 61.30,327.60 62.20,325.90 63.00,323.80 63.90,325.20 64.80,323.50 65.60,320.00 66.10,318.30 67.40,318.70 68.20,317.80 69.10,319.00 70.00,317.30 70.80,317.80 71.70,319.00 72.50,319.50 73.40,318.30 74.30,317.80 75.10,318.70 76.00,319.50 76.85,320.37 77.70,320.70 78.60,320.00 79.50,321.20 80.35,321.77 81.20,323.00 82.07,323.67 82.93,323.80 83.80,324.70 84.67,324.82 85.53,326.17 86.40,326.40 87.30,325.00 88.10,326.40 88.95,327.04 89.80,328.20 90.67,328.68 91.53,330.10 92.40,330.40 93.27,331.14 94.13,331.01 95.00,331.60 95.90,332.27 96.80,332.10 97.67,332.67 98.53,333.33 99.40,333.70 100.27,333.90 101.13,335.03 102.00,335.10 102.87,336.14 103.73,337.25 104.60,337.70 105.45,338.75 106.30,339.10 107.15,339.87 108.00,340.88 108.85,341.65 109.70,342.90 110.58,343.53 111.45,344.41 112.33,345.57 113.20,346.70 114.08,347.57 114.95,347.80 115.83,349.19 116.70,349.80 117.75,350.80 118.80,352.10 119.70,352.91 120.60,354.35 121.50,355.02 122.40,355.85 123.30,357.00 124.18,358.00 125.06,359.22 125.94,359.66 126.82,361.51 127.70,362.10 128.58,362.69 129.46,364.36 130.34,365.47 131.22,365.75 132.10,367.20 132.98,368.30 133.86,368.76 134.74,369.79 135.62,370.12 136.50,371.40 137.40,371.67 138.30,372.47 139.20,373.85 140.10,373.85 141.00,374.80 141.88,375.63 142.76,376.38 143.64,376.99 144.52,377.05 145.40,377.79 146.28,378.23 147.16,378.95 148.04,379.75 148.92,379.71 149.80,380.64 150.68,381.06 151.56,381.31 152.44,381.57 153.32,381.03 154.20,381.65 155.10,382.38 156.00,381.94 156.90,382.49 157.80,383.06 158.70,383.29 159.80,384.29 160.90,384.54 162.00,383.84 163.10,383.42 163.93,384.44 164.75,384.74 165.57,385.17 166.40,385.97 167.22,386.40 168.05,386.87 168.88,387.38 169.70,388.35 170.52,387.85 171.35,388.16 172.18,388.25 173.00,387.62 173.85,387.26 174.70,387.11 175.55,387.91 176.40,387.42 177.22,387.12 178.05,386.67 178.88,386.19 179.70,386.09 180.52,386.42 181.35,386.88 182.18,386.79 183.00,387.08 183.82,387.19 184.65,387.04 185.48,387.99 186.30,387.80 187.40,382.74 188.30,380.88 189.20,379.86 190.00,379.08 190.80,378.31 191.90,379.55 193.00,380.17 194.10,380.32 195.20,381.12 196.30,381.39 197.40,381.23 198.50,382.13 199.60,382.21 200.30,376.50 201.80,372.00 202.90,368.82 204.00,365.40 205.60,363.20 206.90,357.70 207.80,354.30 208.90,345.50 210.00,342.20 210.70,340.00 211.30,337.70" fill="none" stroke="#63a830" stroke-width="1.3" stroke-linejoin="round"/>
<rect x="50" y="393.1" width="1" height="25.19999999999999" fill="#000" shape-rendering="crispEdges"/>
<line x1="54.35" y1="393.1" x2="54.35" y2="418.3" stroke="#000" stroke-width="1.0"/>
<line x1="57.35" y1="393.1" x2="57.35" y2="418.3" stroke="#000" stroke-width="1.0"/>
<line x1="59.95" y1="393.1" x2="59.95" y2="418.3" stroke="#000" stroke-width="1.0"/>
<line x1="61.65" y1="393.1" x2="61.65" y2="418.3" stroke="#000" stroke-width="1.0"/>
<line x1="64.75" y1="393.1" x2="64.75" y2="418.3" stroke="#000" stroke-width="1.0"/>
<line x1="66.25" y1="393.1" x2="66.25" y2="418.3" stroke="#000" stroke-width="1.0"/>
<line x1="67.75" y1="393.1" x2="67.75" y2="418.3" stroke="#000" stroke-width="1.0"/>
<line x1="70.35" y1="393.1" x2="70.35" y2="418.3" stroke="#000" stroke-width="1.0"/>
<line x1="74.15" y1="393.1" x2="74.15" y2="418.3" stroke="#000" stroke-width="1.0"/>
<line x1="75.65" y1="393.1" x2="75.65" y2="418.3" stroke="#000" stroke-width="1.0"/>
<line x1="78.05" y1="393.1" x2="78.05" y2="418.3" stroke="#000" stroke-width="1.0"/>
<line x1="79.55" y1="393.1" x2="79.55" y2="418.3" stroke="#000" stroke-width="1.0"/>
<line x1="83.25" y1="393.1" x2="83.25" y2="418.3" stroke="#000" stroke-width="1.0"/>
<line x1="84.75" y1="393.1" x2="84.75" y2="418.3" stroke="#000" stroke-width="1.0"/>
<line x1="86.25" y1="393.1" x2="86.25" y2="418.3" stroke="#000" stroke-width="1.0"/>
<rect x="89" y="393.1" width="1" height="25.19999999999999" fill="#000" shape-rendering="crispEdges"/>
<line x1="93.65" y1="393.1" x2="93.65" y2="418.3" stroke="#000" stroke-width="1.0"/>
<line x1="95.15" y1="393.1" x2="95.15" y2="418.3" stroke="#000" stroke-width="1.0"/>
<line x1="96.65" y1="393.1" x2="96.65" y2="418.3" stroke="#000" stroke-width="1.0"/>
<line x1="99.75" y1="393.1" x2="99.75" y2="418.3" stroke="#000" stroke-width="1.0"/>
<line x1="104.05" y1="393.1" x2="104.05" y2="418.3" stroke="#000" stroke-width="1.0"/>
<line x1="108.05" y1="393.1" x2="108.05" y2="418.3" stroke="#000" stroke-width="1.0"/>
<line x1="112.15" y1="393.1" x2="112.15" y2="418.3" stroke="#000" stroke-width="1.0"/>
<rect x="115" y="393.1" width="1" height="25.19999999999999" fill="#000" shape-rendering="crispEdges"/>
<line x1="119.05" y1="393.1" x2="119.05" y2="418.3" stroke="#000" stroke-width="1.0"/>
<line x1="120.55" y1="393.1" x2="120.55" y2="418.3" stroke="#000" stroke-width="1.0"/>
<line x1="121.35" y1="393.1" x2="121.35" y2="418.3" stroke="#000" stroke-width="1.0"/>
<line x1="124.85" y1="393.1" x2="124.85" y2="418.3" stroke="#000" stroke-width="1.0"/>
<line x1="129.15" y1="393.1" x2="129.15" y2="418.3" stroke="#000" stroke-width="1.0"/>
<rect x="132" y="393.1" width="1" height="25.19999999999999" fill="#000" shape-rendering="crispEdges"/>
<rect x="136" y="393.1" width="2" height="25.19999999999999" fill="#000" shape-rendering="crispEdges"/>
<rect x="138" y="393.1" width="3" height="25.19999999999999" fill="#000" shape-rendering="crispEdges"/>
<rect x="142" y="393.1" width="5" height="25.19999999999999" fill="#000" shape-rendering="crispEdges"/>
<rect x="148" y="393.1" width="1" height="25.19999999999999" fill="#000" shape-rendering="crispEdges"/>
<rect x="150" y="393.1" width="2" height="25.19999999999999" fill="#000" shape-rendering="crispEdges"/>
<rect x="153" y="393.1" width="2" height="25.19999999999999" fill="#000" shape-rendering="crispEdges"/>
<rect x="155" y="393.1" width="2" height="25.19999999999999" fill="#000" shape-rendering="crispEdges"/>
<rect x="159" y="393.1" width="1" height="25.19999999999999" fill="#000" shape-rendering="crispEdges"/>
<rect x="161" y="393.1" width="2" height="25.19999999999999" fill="#000" shape-rendering="crispEdges"/>
<rect x="164" y="393.1" width="2" height="25.19999999999999" fill="#000" shape-rendering="crispEdges"/>
<rect x="167" y="393.1" width="1" height="25.19999999999999" fill="#000" shape-rendering="crispEdges"/>
<rect x="170" y="393.1" width="7" height="25.19999999999999" fill="#000" shape-rendering="crispEdges"/>
<rect x="178" y="393.1" width="5" height="25.19999999999999" fill="#000" shape-rendering="crispEdges"/>
<rect x="184" y="393.1" width="4" height="25.19999999999999" fill="#000" shape-rendering="crispEdges"/>
<rect x="188" y="393.1" width="1" height="25.19999999999999" fill="#000" shape-rendering="crispEdges"/>
<rect x="191" y="393.1" width="1" height="25.19999999999999" fill="#000" shape-rendering="crispEdges"/>
<rect x="193" y="393.1" width="2" height="25.19999999999999" fill="#000" shape-rendering="crispEdges"/>
<rect x="196" y="393.1" width="2" height="25.19999999999999" fill="#000" shape-rendering="crispEdges"/>
<rect x="199" y="393.1" width="7" height="25.19999999999999" fill="#000" shape-rendering="crispEdges"/>
<rect x="207" y="393.1" width="4" height="25.19999999999999" fill="#000" shape-rendering="crispEdges"/>
<rect x="46.6" y="419.2" width="28.447199999999988" height="5.800000000000011" fill="#d44a4c"/>
<rect x="74.99719999999999" y="419.2" width="11.772100000000009" height="5.800000000000011" fill="#d96a78"/>
<rect x="86.7193" y="419.2" width="15.899600000000007" height="5.800000000000011" fill="#e0847e"/>
<rect x="102.56890000000001" y="419.2" width="23.32909999999997" height="5.800000000000011" fill="#f2bfe0"/>
<rect x="125.84799999999998" y="419.2" width="18.706300000000027" height="5.800000000000011" fill="#d8d8f2"/>
<rect x="144.5043" y="419.2" width="19.201600000000013" height="5.800000000000011" fill="#bdb6e6"/>
<rect x="163.6559" y="419.2" width="15.404300000000006" height="5.800000000000011" fill="#8a7ec8"/>
<rect x="179.0102" y="419.2" width="28.44720000000001" height="5.800000000000011" fill="#5a44a6"/>
<rect x="207.4074" y="419.2" width="4.3426000000000045" height="5.800000000000011" fill="#3a2a8c"/>
<rect x="46.6" y="313.5" width="173.0" height="111.8" fill="none" stroke="#1a1a1a" stroke-width="1"/>
<line x1="46.6" y1="392.6" x2="219.6" y2="392.6" stroke="#1a1a1a" stroke-width="1"/>
<line x1="46.6" y1="418.5" x2="219.6" y2="418.5" stroke="#1a1a1a" stroke-width="0.7"/>
<line x1="43.2" y1="320.0" x2="46.6" y2="320.0" stroke="#333" stroke-width="1.1"/>
<text x="41.1" y="322.5" font-size="8.5" text-anchor="end" textLength="16.05" lengthAdjust="spacingAndGlyphs" fill="#222" stroke="#222" stroke-width="0.153">0.10</text>
<line x1="43.2" y1="329.3" x2="46.6" y2="329.3" stroke="#333" stroke-width="1.1"/>
<text x="41.1" y="331.8" font-size="8.5" text-anchor="end" textLength="16.05" lengthAdjust="spacingAndGlyphs" fill="#222" stroke="#222" stroke-width="0.153">0.05</text>
<line x1="43.2" y1="338.6" x2="46.6" y2="338.6" stroke="#333" stroke-width="1.1"/>
<text x="41.1" y="341.1" font-size="8.5" text-anchor="end" textLength="16.05" lengthAdjust="spacingAndGlyphs" fill="#222" stroke="#222" stroke-width="0.153">0.00</text>
<line x1="43.2" y1="347.9" x2="46.6" y2="347.9" stroke="#333" stroke-width="1.1"/>
<text x="41.1" y="350.4" font-size="8.5" text-anchor="end" textLength="18.79" lengthAdjust="spacingAndGlyphs" fill="#222" stroke="#222" stroke-width="0.153">-0.05</text>
<line x1="43.2" y1="357.2" x2="46.6" y2="357.2" stroke="#333" stroke-width="1.1"/>
<text x="41.1" y="359.7" font-size="8.5" text-anchor="end" textLength="18.79" lengthAdjust="spacingAndGlyphs" fill="#222" stroke="#222" stroke-width="0.153">-0.10</text>
<line x1="43.2" y1="366.5" x2="46.6" y2="366.5" stroke="#333" stroke-width="1.1"/>
<text x="41.1" y="369.0" font-size="8.5" text-anchor="end" textLength="18.79" lengthAdjust="spacingAndGlyphs" fill="#222" stroke="#222" stroke-width="0.153">-0.15</text>
<line x1="43.2" y1="375.8" x2="46.6" y2="375.8" stroke="#333" stroke-width="1.1"/>
<text x="41.1" y="378.3" font-size="8.5" text-anchor="end" textLength="18.79" lengthAdjust="spacingAndGlyphs" fill="#222" stroke="#222" stroke-width="0.153">-0.20</text>
<line x1="43.2" y1="385.1" x2="46.6" y2="385.1" stroke="#333" stroke-width="1.1"/>
<text x="41.1" y="387.6" font-size="8.5" text-anchor="end" textLength="18.79" lengthAdjust="spacingAndGlyphs" fill="#222" stroke="#222" stroke-width="0.153">-0.25</text>
<text x="0" y="0" font-size="8.9" text-anchor="middle" textLength="76.5" lengthAdjust="spacingAndGlyphs" fill="#222" stroke="#222" stroke-width="0.16" transform="translate(17.2,354.2) rotate(-90)">Enrichment score (ES)</text>
<polyline points="46.60,450.80 46.60,436.19 46.67,437.06 46.75,437.81 46.82,438.48 46.90,439.06 46.97,439.56 47.04,440.01 47.12,440.41 47.19,440.77 47.27,441.08 47.34,441.36 47.41,441.62 47.49,441.85 47.56,442.06 47.64,442.25 47.71,442.43 47.78,442.59 47.86,442.74 47.93,442.88 48.01,443.01 48.08,443.13 48.15,443.24 48.23,443.35 48.30,443.45 48.38,443.55 48.45,443.64 48.52,443.73 48.60,443.82 48.67,443.90 48.75,443.98 48.82,444.05 49.93,444.95 51.04,445.58 52.15,446.06 53.26,446.45 54.37,446.76 55.48,447.03 56.59,447.25 57.70,447.45 58.81,447.62 59.92,447.78 61.03,447.91 62.14,448.04 63.25,448.15 64.36,448.25 65.47,448.35 66.58,448.44 67.69,448.52 68.80,448.59 69.91,448.66 71.02,448.73 72.13,448.79 73.24,448.85 74.35,448.91 75.46,448.96 76.57,449.01 77.68,449.06 78.79,449.10 79.90,449.15 81.01,449.19 82.12,449.23 83.23,449.27 84.34,449.31 85.45,449.34 86.56,449.38 87.67,449.41 88.78,449.45 89.89,449.48 91.00,449.51 92.11,449.54 93.22,449.57 94.33,449.60 95.44,449.63 96.55,449.66 97.66,449.68 98.77,449.71 99.88,449.74 100.99,449.76 102.10,449.79 103.21,449.81 104.32,449.84 105.43,449.87 106.54,449.89 107.65,449.92 108.76,449.94 109.87,449.97 110.98,449.99 112.09,450.02 113.20,450.05 114.31,450.08 115.42,450.10 116.53,450.13 117.64,450.17 118.75,450.20 119.86,450.23 120.97,450.27 122.08,450.32 123.19,450.37 124.30,450.45 125.41,450.59 126.52,451.12 127.63,451.12 128.74,451.12 129.85,451.12 130.96,451.12 132.07,451.12 133.18,451.12 134.29,451.12 135.40,451.12 136.51,451.12 137.62,451.12 138.73,451.12 139.84,451.13 140.95,451.13 142.06,451.13 143.17,451.13 144.28,451.14 145.39,451.14 146.50,451.15 147.61,451.15 148.72,451.16 149.83,451.16 150.94,451.17 152.05,451.18 153.16,451.19 154.27,451.20 155.38,451.21 156.49,451.22 157.60,451.23 158.71,451.24 159.82,451.25 160.93,451.27 162.04,451.28 163.15,451.30 164.26,451.32 165.37,451.33 166.48,451.35 167.59,451.37 168.70,451.39 169.81,451.41 170.92,451.44 172.03,451.46 173.14,451.49 174.25,451.51 175.36,451.54 176.47,451.57 177.58,451.60 178.69,451.63 179.80,451.67 180.91,451.70 182.02,451.74 183.13,451.77 184.24,451.81 185.35,451.85 186.46,451.89 187.57,451.94 188.68,451.98 189.79,452.03 190.90,452.08 192.01,452.13 193.12,452.18 194.23,452.23 195.34,452.29 196.45,452.35 197.56,452.40 198.67,452.47 199.78,452.53 200.89,452.60 202.00,452.67 203.11,452.76 204.22,452.86 205.33,452.99 205.70,453.05 205.88,453.08 206.07,453.11 206.25,453.15 206.44,453.18 206.62,453.22 206.81,453.27 206.99,453.32 207.18,453.37 207.36,453.43 207.55,453.49 207.73,453.56 207.92,453.63 208.10,453.71 208.29,453.80 208.47,453.90 208.66,454.01 208.84,454.13 209.03,454.27 209.21,454.42 209.40,454.58 209.58,454.76 209.77,454.96 209.95,455.19 210.14,455.43 210.32,455.71 210.51,456.02 210.69,456.36 210.88,461.86 210.95,474.89 211.77,474.89 211.77,450.80" fill="#c8c8cc" stroke="none" stroke-width="1" stroke="#c0c0c4" stroke-width="0.5"/>
<line x1="46.6" y1="425.3" x2="46.6" y2="478.90000000000003" stroke="#1a1a1a" stroke-width="1"/>
<line x1="46.1" y1="478.3" x2="219.8" y2="478.3" stroke="#1a1a1a" stroke-width="1.1"/>
<line x1="43.6" y1="427.1" x2="46.6" y2="427.1" stroke="#222" stroke-width="0.9"/>
<text x="41.1" y="430.0" font-size="8.5" text-anchor="end" fill="#222" stroke="#222" stroke-width="0.153">3</text>
<line x1="43.6" y1="435.0" x2="46.6" y2="435.0" stroke="#222" stroke-width="0.9"/>
<text x="41.1" y="437.9" font-size="8.5" text-anchor="end" fill="#222" stroke="#222" stroke-width="0.153">2</text>
<line x1="43.6" y1="442.90000000000003" x2="46.6" y2="442.90000000000003" stroke="#222" stroke-width="0.9"/>
<text x="41.1" y="445.8" font-size="8.5" text-anchor="end" fill="#222" stroke="#222" stroke-width="0.153">1</text>
<line x1="43.6" y1="450.8" x2="46.6" y2="450.8" stroke="#222" stroke-width="0.9"/>
<text x="41.1" y="453.7" font-size="8.5" text-anchor="end" fill="#222" stroke="#222" stroke-width="0.153">0</text>
<line x1="43.6" y1="458.7" x2="46.6" y2="458.7" stroke="#222" stroke-width="0.9"/>
<text x="41.1" y="461.59999999999997" font-size="8.5" text-anchor="end" fill="#222" stroke="#222" stroke-width="0.153">-1</text>
<line x1="43.6" y1="466.6" x2="46.6" y2="466.6" stroke="#222" stroke-width="0.9"/>
<text x="41.1" y="469.5" font-size="8.5" text-anchor="end" fill="#222" stroke="#222" stroke-width="0.153">-2</text>
<line x1="43.6" y1="474.5" x2="46.6" y2="474.5" stroke="#222" stroke-width="0.9"/>
<text x="41.1" y="477.4" font-size="8.5" text-anchor="end" fill="#222" stroke="#222" stroke-width="0.153">-3</text>
<line x1="46.6" y1="478.3" x2="46.6" y2="480.90000000000003" stroke="#222" stroke-width="0.9"/>
<text x="46.6" y="491.2" font-size="8.5" text-anchor="middle" fill="#222" stroke="#222" stroke-width="0.153">0</text>
<line x1="65.1" y1="478.3" x2="65.1" y2="480.90000000000003" stroke="#222" stroke-width="0.9"/>
<line x1="83.6" y1="478.3" x2="83.6" y2="480.90000000000003" stroke="#222" stroke-width="0.9"/>
<text x="83.6" y="491.2" font-size="8.5" text-anchor="middle" textLength="19.5" lengthAdjust="spacingAndGlyphs" fill="#222" stroke="#222" stroke-width="0.153">1,000</text>
<line x1="102.1" y1="478.3" x2="102.1" y2="480.90000000000003" stroke="#222" stroke-width="0.9"/>
<line x1="120.6" y1="478.3" x2="120.6" y2="480.90000000000003" stroke="#222" stroke-width="0.9"/>
<text x="120.6" y="491.2" font-size="8.5" text-anchor="middle" textLength="19.5" lengthAdjust="spacingAndGlyphs" fill="#222" stroke="#222" stroke-width="0.153">2,000</text>
<line x1="139.1" y1="478.3" x2="139.1" y2="480.90000000000003" stroke="#222" stroke-width="0.9"/>
<line x1="157.6" y1="478.3" x2="157.6" y2="480.90000000000003" stroke="#222" stroke-width="0.9"/>
<text x="157.6" y="491.2" font-size="8.5" text-anchor="middle" textLength="19.5" lengthAdjust="spacingAndGlyphs" fill="#222" stroke="#222" stroke-width="0.153">3,000</text>
<line x1="176.1" y1="478.3" x2="176.1" y2="480.90000000000003" stroke="#222" stroke-width="0.9"/>
<line x1="194.6" y1="478.3" x2="194.6" y2="480.90000000000003" stroke="#222" stroke-width="0.9"/>
<text x="194.6" y="491.2" font-size="8.5" text-anchor="middle" textLength="19.5" lengthAdjust="spacingAndGlyphs" fill="#222" stroke="#222" stroke-width="0.153">4,000</text>
<line x1="213.1" y1="478.3" x2="213.1" y2="480.90000000000003" stroke="#222" stroke-width="0.9"/>
<rect x="107.36900000000001" y="448.6" width="36.2" height="4.2" fill="#fff"/>
<text x="107.36900000000001" y="452.6" font-size="5.4" textLength="35.6" lengthAdjust="spacingAndGlyphs" fill="#222" stroke="#222" stroke-width="0.097">Zero cross at 2137</text>
<line x1="125.66900000000001" y1="426.0" x2="125.66900000000001" y2="478.3" stroke="#222" stroke-width="0.8" stroke-dasharray="3,2"/>
<text x="48.4" y="431.90000000000003" font-size="4.6" textLength="58.6" lengthAdjust="spacingAndGlyphs" fill="#c02858" stroke="#c02858" stroke-width="0.083">'na_pos' (positively correlated)</text>
<text x="0" y="0" font-size="8.9" text-anchor="middle" textLength="63.5" lengthAdjust="spacingAndGlyphs" fill="#222" stroke="#222" stroke-width="0.16" transform="translate(16.0,450.6) rotate(-90)">Ranked list metric</text>
<text x="0" y="0" font-size="8.9" text-anchor="middle" textLength="41" lengthAdjust="spacingAndGlyphs" fill="#222" stroke="#222" stroke-width="0.16" transform="translate(27.0,450.6) rotate(-90)">(PreRanked)</text>
<text x="92.8" y="504.0" font-size="8.9" textLength="80.3" lengthAdjust="spacingAndGlyphs" fill="#222" stroke="#222" stroke-width="0.16">Rank in ordered dataset</text>
<line x1="34.8" y1="520.2" x2="42" y2="520.2" stroke="#63a830" stroke-width="1.3"/>
<text x="44.5" y="522.5" font-size="8" textLength="63.099999999999994" lengthAdjust="spacingAndGlyphs" fill="#222" stroke="#222" stroke-width="0.144">Enrichment profile</text>
<line x1="117.3" y1="520.2" x2="122.8" y2="520.2" stroke="#c8c8cc" stroke-width="1.3"/>
<text x="125.8" y="522.5" font-size="8" textLength="73.2" lengthAdjust="spacingAndGlyphs" fill="#222" stroke="#222" stroke-width="0.144">Ranking metric scores</text>
<line x1="207.4" y1="520.2" x2="213.7" y2="520.2" stroke="#333" stroke-width="1.3"/>
<text x="216.7" y="522.5" font-size="8" textLength="13.5" lengthAdjust="spacingAndGlyphs" fill="#222" stroke="#222" stroke-width="0.144">Hits</text>
<text x="110.8" y="320.6" font-size="8.1" textLength="101.2" lengthAdjust="spacingAndGlyphs" fill="#1a1a1a" stroke="#1a1a1a" stroke-width="0.146">NES=-1.2; FDR q-value=0.053</text>
<line x1="38.4" y1="310.4" x2="38.4" y2="314.5" stroke="#111" stroke-width="1.1"/>
<text x="399.3" y="297.6" font-size="4.95" text-anchor="end" fill="#454545" stroke="#454545" stroke-width="0.089">extracellular space</text>
<line x1="402.4" y1="295.85" x2="405.2" y2="295.85" stroke="#222" stroke-width="0.9"/>
<rect x="500.0" y="291.85" width="8.5" height="8.0" fill="#2e2a84"/>
<text x="399.3" y="306.69" font-size="4.95" text-anchor="end" fill="#454545" stroke="#454545" stroke-width="0.089">myeloid leukocyte activation</text>
<line x1="402.4" y1="304.94" x2="405.2" y2="304.94" stroke="#222" stroke-width="0.9"/>
<rect x="500.0" y="300.94" width="7.399999999999977" height="8.0" fill="#2e2a84"/>
<text x="399.3" y="315.78000000000003" font-size="4.95" text-anchor="end" fill="#454545" stroke="#454545" stroke-width="0.089">myeloid cell activation involved in immune response</text>
<line x1="402.4" y1="314.03000000000003" x2="405.2" y2="314.03000000000003" stroke="#222" stroke-width="0.9"/>
<rect x="500.0" y="310.03000000000003" width="7.199999999999989" height="8.0" fill="#2e2a84"/>
<text x="399.3" y="324.87" font-size="4.95" text-anchor="end" fill="#454545" stroke="#454545" stroke-width="0.089">leukocyte activation involved in immune response</text>
<line x1="402.4" y1="323.12" x2="405.2" y2="323.12" stroke="#222" stroke-width="0.9"/>
<rect x="500.0" y="319.12" width="7.0" height="8.0" fill="#2e2a84"/>
<text x="399.3" y="333.96000000000004" font-size="4.95" text-anchor="end" fill="#454545" stroke="#454545" stroke-width="0.089">cell activation involved in immun response</text>
<line x1="402.4" y1="332.21000000000004" x2="405.2" y2="332.21000000000004" stroke="#222" stroke-width="0.9"/>
<rect x="500.0" y="328.21000000000004" width="6.899999999999977" height="8.0" fill="#2e2a84"/>
<text x="399.3" y="343.05" font-size="4.95" text-anchor="end" fill="#454545" stroke="#454545" stroke-width="0.089">regulated exocytosis</text>
<line x1="402.4" y1="341.3" x2="405.2" y2="341.3" stroke="#222" stroke-width="0.9"/>
<rect x="500.0" y="337.3" width="6.600000000000023" height="8.0" fill="#2e2a84"/>
<text x="399.3" y="352.14000000000004" font-size="4.95" text-anchor="end" fill="#454545" stroke="#454545" stroke-width="0.089">cell activation</text>
<line x1="402.4" y1="350.39000000000004" x2="405.2" y2="350.39000000000004" stroke="#222" stroke-width="0.9"/>
<rect x="500.0" y="346.39000000000004" width="6.399999999999977" height="8.0" fill="#2e2a84"/>
<text x="399.3" y="361.23" font-size="4.95" text-anchor="end" fill="#454545" stroke="#454545" stroke-width="0.089">leukocyte activation</text>
<line x1="402.4" y1="359.48" x2="405.2" y2="359.48" stroke="#222" stroke-width="0.9"/>
<rect x="500.0" y="355.48" width="6.399999999999977" height="8.0" fill="#2e2a84"/>
<text x="399.3" y="370.32000000000005" font-size="4.95" text-anchor="end" fill="#454545" stroke="#454545" stroke-width="0.089">exocytosis</text>
<line x1="402.4" y1="368.57000000000005" x2="405.2" y2="368.57000000000005" stroke="#222" stroke-width="0.9"/>
<rect x="500.0" y="364.57000000000005" width="5.800000000000011" height="8.0" fill="#2e2a84"/>
<text x="399.3" y="379.41" font-size="4.95" text-anchor="end" fill="#454545" stroke="#454545" stroke-width="0.089">cytoplasmic vesicle part</text>
<line x1="402.4" y1="377.66" x2="405.2" y2="377.66" stroke="#222" stroke-width="0.9"/>
<rect x="500.0" y="373.66" width="5.300000000000011" height="8.0" fill="#2e2a84"/>
<text x="399.3" y="388.5" font-size="4.95" text-anchor="end" fill="#454545" stroke="#454545" stroke-width="0.089">extracellular exosome</text>
<line x1="402.4" y1="386.75" x2="405.2" y2="386.75" stroke="#222" stroke-width="0.9"/>
<rect x="500.0" y="382.75" width="4.5" height="8.0" fill="#2e2a84"/>
<text x="399.3" y="397.59000000000003" font-size="4.95" text-anchor="end" fill="#454545" stroke="#454545" stroke-width="0.089">extracellular vesicle</text>
<line x1="402.4" y1="395.84000000000003" x2="405.2" y2="395.84000000000003" stroke="#222" stroke-width="0.9"/>
<rect x="500.0" y="391.84000000000003" width="4.300000000000011" height="8.0" fill="#2e2a84"/>
<text x="399.3" y="406.68" font-size="4.95" text-anchor="end" fill="#454545" stroke="#454545" stroke-width="0.089">extracellular organelle</text>
<line x1="402.4" y1="404.93" x2="405.2" y2="404.93" stroke="#222" stroke-width="0.9"/>
<rect x="500.0" y="400.93" width="4.0" height="8.0" fill="#2e2a84"/>
<text x="399.3" y="415.77000000000004" font-size="4.95" text-anchor="end" fill="#454545" stroke="#454545" stroke-width="0.089">extracellular region part</text>
<line x1="402.4" y1="414.02000000000004" x2="405.2" y2="414.02000000000004" stroke="#222" stroke-width="0.9"/>
<rect x="500.0" y="410.02000000000004" width="3.8000000000000114" height="8.0" fill="#2e2a84"/>
<text x="399.3" y="424.86" font-size="4.95" text-anchor="end" fill="#454545" stroke="#454545" stroke-width="0.089">vesicle</text>
<line x1="402.4" y1="423.11" x2="405.2" y2="423.11" stroke="#222" stroke-width="0.9"/>
<rect x="500.0" y="419.11" width="3.5" height="8.0" fill="#2e2a84"/>
<text x="399.3" y="433.95000000000005" font-size="4.95" text-anchor="end" fill="#454545" stroke="#454545" stroke-width="0.089">double-stranded DNA binding</text>
<line x1="402.4" y1="432.20000000000005" x2="405.2" y2="432.20000000000005" stroke="#222" stroke-width="0.9"/>
<rect x="495.8" y="428.25000000000006" width="4.199999999999989" height="7.9" fill="#d21c50"/>
<text x="399.3" y="443.04" font-size="4.95" text-anchor="end" fill="#454545" stroke="#454545" stroke-width="0.089">RNA polymerase II regulatory region sequence-specific DNA binding</text>
<line x1="402.4" y1="441.29" x2="405.2" y2="441.29" stroke="#222" stroke-width="0.9"/>
<rect x="494.9" y="437.34000000000003" width="5.100000000000023" height="7.9" fill="#d4401c"/>
<text x="399.3" y="452.13" font-size="4.95" text-anchor="end" fill="#454545" stroke="#454545" stroke-width="0.089">proximal promoter sequence–specific DNA binding</text>
<line x1="402.4" y1="450.38" x2="405.2" y2="450.38" stroke="#222" stroke-width="0.9"/>
<rect x="493.7" y="446.43" width="6.300000000000011" height="7.9" fill="#b0309a"/>
<text x="399.3" y="461.22" font-size="4.95" text-anchor="end" fill="#454545" stroke="#454545" stroke-width="0.089">RNA polymerase II proximal promoter sequence–specific DNA binding</text>
<line x1="402.4" y1="459.47" x2="405.2" y2="459.47" stroke="#222" stroke-width="0.9"/>
<rect x="493.5" y="455.52000000000004" width="6.5" height="7.9" fill="#8c2c90"/>
<text x="399.3" y="470.31000000000006" font-size="4.95" text-anchor="end" fill="#454545" stroke="#454545" stroke-width="0.089">nucleosome organization</text>
<line x1="402.4" y1="468.56000000000006" x2="405.2" y2="468.56000000000006" stroke="#222" stroke-width="0.9"/>
<rect x="490.6" y="464.61000000000007" width="9.399999999999977" height="7.9" fill="#d42424"/>
<text x="399.3" y="479.40000000000003" font-size="4.95" text-anchor="end" fill="#454545" stroke="#454545" stroke-width="0.089">chromatin DNA binding</text>
<line x1="402.4" y1="477.65000000000003" x2="405.2" y2="477.65000000000003" stroke="#222" stroke-width="0.9"/>
<rect x="488.4" y="473.70000000000005" width="11.600000000000023" height="7.9" fill="#7a2a90"/>
<text x="399.3" y="488.49" font-size="4.95" text-anchor="end" fill="#454545" stroke="#454545" stroke-width="0.089">nucleosome binding</text>
<line x1="402.4" y1="486.74" x2="405.2" y2="486.74" stroke="#222" stroke-width="0.9"/>
<rect x="486.4" y="482.79" width="13.600000000000023" height="7.9" fill="#5e2888"/>
<text x="399.3" y="497.58000000000004" font-size="4.95" text-anchor="end" fill="#454545" stroke="#454545" stroke-width="0.089">nucleosomal DNA binding</text>
<line x1="402.4" y1="495.83000000000004" x2="405.2" y2="495.83000000000004" stroke="#222" stroke-width="0.9"/>
<rect x="477.8" y="491.88000000000005" width="22.19999999999999" height="7.9" fill="#362a88"/>
<text x="399.3" y="506.67" font-size="4.95" text-anchor="end" fill="#454545" stroke="#454545" stroke-width="0.089">nBAF complex</text>
<line x1="402.4" y1="504.92" x2="405.2" y2="504.92" stroke="#222" stroke-width="0.9"/>
<rect x="470.3" y="500.97" width="29.69999999999999" height="7.9" fill="#d41c68"/>
<text x="399.3" y="515.76" font-size="4.95" text-anchor="end" fill="#454545" stroke="#454545" stroke-width="0.089">ISG15 transferase activity</text>
<line x1="402.4" y1="514.01" x2="405.2" y2="514.01" stroke="#222" stroke-width="0.9"/>
<rect x="410.3" y="510.06" width="89.69999999999999" height="7.9" fill="#b02a8c"/>
<line x1="405.2" y1="290.4" x2="405.2" y2="519.6" stroke="#222" stroke-width="1.1"/>
<line x1="404.6" y1="519.1" x2="512.4" y2="519.1" stroke="#222" stroke-width="1.1"/>
<line x1="412.2" y1="519.1" x2="412.2" y2="521.8" stroke="#222" stroke-width="0.9"/>
<text x="412.2" y="532.8" font-size="8.4" text-anchor="middle" fill="#333" stroke="#333" stroke-width="0.151">−50</text>
<line x1="429.7" y1="519.1" x2="429.7" y2="521.8" stroke="#222" stroke-width="0.9"/>
<text x="429.7" y="532.8" font-size="8.4" text-anchor="middle" fill="#333" stroke="#333" stroke-width="0.151">−40</text>
<line x1="447.2" y1="519.1" x2="447.2" y2="521.8" stroke="#222" stroke-width="0.9"/>
<text x="447.2" y="532.8" font-size="8.4" text-anchor="middle" fill="#333" stroke="#333" stroke-width="0.151">−30</text>
<line x1="464.7" y1="519.1" x2="464.7" y2="521.8" stroke="#222" stroke-width="0.9"/>
<text x="464.7" y="532.8" font-size="8.4" text-anchor="middle" fill="#333" stroke="#333" stroke-width="0.151">−20</text>
<line x1="482.2" y1="519.1" x2="482.2" y2="521.8" stroke="#222" stroke-width="0.9"/>
<text x="482.2" y="532.8" font-size="8.4" text-anchor="middle" fill="#333" stroke="#333" stroke-width="0.151">−10</text>
<line x1="499.7" y1="519.1" x2="499.7" y2="521.8" stroke="#222" stroke-width="0.9"/>
<text x="499.7" y="532.8" font-size="8.4" text-anchor="middle" fill="#333" stroke="#333" stroke-width="0.151">0</text>
<text x="459.1" y="545.0" font-size="8.9" text-anchor="middle" textLength="39.2" lengthAdjust="spacingAndGlyphs" fill="#333" stroke="#333" stroke-width="0.16">Enrichment</text>
<text x="414.9" y="299.0" font-size="7.0" textLength="25.1" lengthAdjust="spacingAndGlyphs" fill="#333" stroke="#333" stroke-width="0.126">P. value</text>
<defs><linearGradient id="pv" x1="0" y1="0" x2="0" y2="1"><stop offset="0" stop-color="#d83a28"/><stop offset="0.25" stop-color="#d8225a"/><stop offset="0.5" stop-color="#c01c86"/><stop offset="0.75" stop-color="#7a2890"/><stop offset="1" stop-color="#2a2080"/></linearGradient></defs>
<rect x="414.9" y="302.4" width="8.9" height="43.8" fill="url(#pv)"/>
<line x1="414.9" y1="311.2" x2="416.8" y2="311.2" stroke="#fff" stroke-width="0.8"/>
<line x1="421.9" y1="311.2" x2="423.8" y2="311.2" stroke="#fff" stroke-width="0.8"/>
<text x="426.9" y="314.0" font-size="7.8" textLength="27.3" lengthAdjust="spacingAndGlyphs" fill="#333" stroke="#333" stroke-width="0.14">0.00075</text>
<line x1="414.9" y1="322.4" x2="416.8" y2="322.4" stroke="#fff" stroke-width="0.8"/>
<line x1="421.9" y1="322.4" x2="423.8" y2="322.4" stroke="#fff" stroke-width="0.8"/>
<text x="426.9" y="325.2" font-size="7.8" textLength="27.3" lengthAdjust="spacingAndGlyphs" fill="#333" stroke="#333" stroke-width="0.14">0.00050</text>
<line x1="414.9" y1="333.9" x2="416.8" y2="333.9" stroke="#fff" stroke-width="0.8"/>
<line x1="421.9" y1="333.9" x2="423.8" y2="333.9" stroke="#fff" stroke-width="0.8"/>
<text x="426.9" y="336.7" font-size="7.8" textLength="27.3" lengthAdjust="spacingAndGlyphs" fill="#333" stroke="#333" stroke-width="0.14">0.00025</text>
<rect x="0.5" y="0.5" width="519" height="554" fill="none" stroke="#000" stroke-width="1.2"/>
</svg></body></html>
